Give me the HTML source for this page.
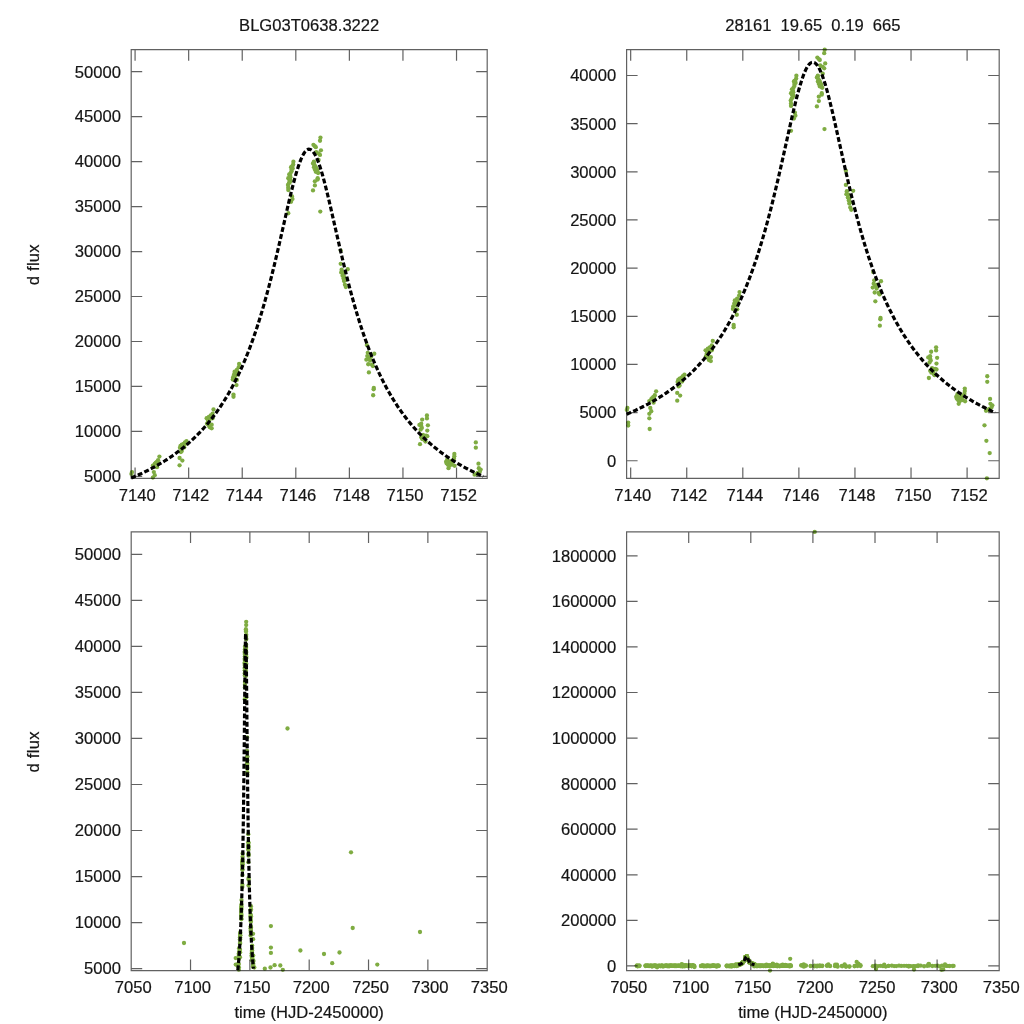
<!DOCTYPE html>
<html lang="en"><head><meta charset="utf-8"><title>BLG03T0638.3222</title>
<style>html,body{margin:0;padding:0;background:#fff}svg{display:block}</style>
</head><body>
<svg width="1024" height="1024" viewBox="0 0 1024 1024">
<rect width="1024" height="1024" fill="#fff"/>
<g font-family="'Liberation Sans', Arial, Helvetica, sans-serif" font-size="16.6" fill="#151515" opacity="0.999" stroke="#151515" stroke-width="0.2">
<g text-anchor="middle">
<text x="137.18" y="500.85">7140</text>
<text x="190.76" y="500.85">7142</text>
<text x="244.33" y="500.85">7144</text>
<text x="297.91" y="500.85">7146</text>
<text x="351.48" y="500.85">7148</text>
<text x="405.05" y="500.85">7150</text>
<text x="458.63" y="500.85">7152</text>
</g><g text-anchor="end">
<text x="120.9" y="482.27">5000</text>
<text x="120.9" y="437.3">10000</text>
<text x="120.9" y="392.32">15000</text>
<text x="120.9" y="347.35">20000</text>
<text x="120.9" y="302.37">25000</text>
<text x="120.9" y="257.4">30000</text>
<text x="120.9" y="212.42">35000</text>
<text x="120.9" y="167.45">40000</text>
<text x="120.9" y="122.47">45000</text>
<text x="120.9" y="77.5">50000</text>
</g>
<g text-anchor="middle">
<text x="632.77" y="500.85">7140</text>
<text x="688.84" y="500.85">7142</text>
<text x="744.91" y="500.85">7144</text>
<text x="800.98" y="500.85">7146</text>
<text x="857.05" y="500.85">7148</text>
<text x="913.13" y="500.85">7150</text>
<text x="969.2" y="500.85">7152</text>
</g><g text-anchor="end">
<text x="616.3" y="466.6">0</text>
<text x="616.3" y="418.44">5000</text>
<text x="616.3" y="370.29">10000</text>
<text x="616.3" y="322.13">15000</text>
<text x="616.3" y="273.98">20000</text>
<text x="616.3" y="225.82">25000</text>
<text x="616.3" y="177.67">30000</text>
<text x="616.3" y="129.52">35000</text>
<text x="616.3" y="81.36">40000</text>
</g>
<g text-anchor="middle">
<text x="133.3" y="993.05">7050</text>
<text x="192.63" y="993.05">7100</text>
<text x="251.97" y="993.05">7150</text>
<text x="311.3" y="993.05">7200</text>
<text x="370.63" y="993.05">7250</text>
<text x="429.97" y="993.05">7300</text>
<text x="489.3" y="993.05">7350</text>
</g><g text-anchor="end">
<text x="120.9" y="974.42">5000</text>
<text x="120.9" y="928.4">10000</text>
<text x="120.9" y="882.38">15000</text>
<text x="120.9" y="836.35">20000</text>
<text x="120.9" y="790.33">25000</text>
<text x="120.9" y="744.31">30000</text>
<text x="120.9" y="698.28">35000</text>
<text x="120.9" y="652.26">40000</text>
<text x="120.9" y="606.23">45000</text>
<text x="120.9" y="560.21">50000</text>
</g>
<g text-anchor="middle">
<text x="628.7" y="993.05">7050</text>
<text x="690.8" y="993.05">7100</text>
<text x="752.9" y="993.05">7150</text>
<text x="815" y="993.05">7200</text>
<text x="877.1" y="993.05">7250</text>
<text x="939.2" y="993.05">7300</text>
<text x="1001.3" y="993.05">7350</text>
</g><g text-anchor="end">
<text x="616.3" y="971.76">0</text>
<text x="616.3" y="926.19">200000</text>
<text x="616.3" y="880.63">400000</text>
<text x="616.3" y="835.06">600000</text>
<text x="616.3" y="789.5">800000</text>
<text x="616.3" y="743.93">1000000</text>
<text x="616.3" y="698.37">1200000</text>
<text x="616.3" y="652.8">1400000</text>
<text x="616.3" y="607.24">1600000</text>
<text x="616.3" y="561.67">1800000</text>
</g>
<g text-anchor="middle">
<text x="309.2" y="30.75">BLG03T0638.3222</text>
<text x="812.9" y="30.75" xml:space="preserve" style="white-space:pre">28161  19.65  0.19  665</text>
<text x="309.2" y="1017.5">time (HJD-2450000)</text>
<text x="812.9" y="1017.5">time (HJD-2450000)</text>
<text transform="translate(38.6 264.7) rotate(-90)" letter-spacing="0.25">d flux</text>
<text transform="translate(38.6 751.9) rotate(-90)" letter-spacing="0.25">d flux</text>
</g></g>
<g fill="#7fac42">
<circle cx="131.99" cy="472.07" r="2.15"/>
<circle cx="131.43" cy="473.89" r="2.15"/>
<circle cx="159.42" cy="456.56" r="2.15"/>
<circle cx="158.11" cy="460.21" r="2.15"/>
<circle cx="156.62" cy="462.03" r="2.15"/>
<circle cx="154.75" cy="463.86" r="2.15"/>
<circle cx="152.89" cy="465.68" r="2.15"/>
<circle cx="156.99" cy="467.14" r="2.15"/>
<circle cx="153.82" cy="472.07" r="2.15"/>
<circle cx="154.75" cy="475.17" r="2.15"/>
<circle cx="152.89" cy="477.54" r="2.15"/>
<circle cx="155.68" cy="462.95" r="2.15"/>
<circle cx="157.55" cy="461.49" r="2.15"/>
<circle cx="186.48" cy="441.06" r="2.15"/>
<circle cx="184.98" cy="442.33" r="2.15"/>
<circle cx="183.68" cy="443.79" r="2.15"/>
<circle cx="181.81" cy="444.7" r="2.15"/>
<circle cx="180.5" cy="445.98" r="2.15"/>
<circle cx="179.94" cy="447.81" r="2.15"/>
<circle cx="184.24" cy="447.44" r="2.15"/>
<circle cx="181.81" cy="451.09" r="2.15"/>
<circle cx="180.88" cy="452" r="2.15"/>
<circle cx="179.57" cy="458.02" r="2.15"/>
<circle cx="182.37" cy="460.57" r="2.15"/>
<circle cx="179.57" cy="465.32" r="2.15"/>
<circle cx="182.74" cy="445.98" r="2.15"/>
<circle cx="185.54" cy="443.79" r="2.15"/>
<circle cx="213.53" cy="409.5" r="2.15"/>
<circle cx="212.6" cy="413.69" r="2.15"/>
<circle cx="210.74" cy="415.52" r="2.15"/>
<circle cx="208.87" cy="416.79" r="2.15"/>
<circle cx="206.63" cy="418.25" r="2.15"/>
<circle cx="207.94" cy="420.99" r="2.15"/>
<circle cx="207" cy="423.73" r="2.15"/>
<circle cx="208.87" cy="425.55" r="2.15"/>
<circle cx="211.67" cy="424.64" r="2.15"/>
<circle cx="209.8" cy="427.37" r="2.15"/>
<circle cx="211.67" cy="428.29" r="2.15"/>
<circle cx="212.6" cy="418.25" r="2.15"/>
<circle cx="209.8" cy="419.17" r="2.15"/>
<circle cx="208.5" cy="422.81" r="2.15"/>
<circle cx="239.1" cy="363.89" r="2.15"/>
<circle cx="238.73" cy="367.18" r="2.15"/>
<circle cx="236.86" cy="369.91" r="2.15"/>
<circle cx="234.62" cy="371.74" r="2.15"/>
<circle cx="234.06" cy="374.47" r="2.15"/>
<circle cx="233.13" cy="377.21" r="2.15"/>
<circle cx="232.76" cy="379.58" r="2.15"/>
<circle cx="236.86" cy="379.95" r="2.15"/>
<circle cx="236.49" cy="385.05" r="2.15"/>
<circle cx="233.5" cy="394.54" r="2.15"/>
<circle cx="233.5" cy="396.73" r="2.15"/>
<circle cx="237.79" cy="374.47" r="2.15"/>
<circle cx="235.93" cy="372.65" r="2.15"/>
<circle cx="234.99" cy="376.3" r="2.15"/>
<circle cx="237.42" cy="371.74" r="2.15"/>
<circle cx="293.4" cy="161.72" r="2.15"/>
<circle cx="293.22" cy="164.46" r="2.15"/>
<circle cx="292" cy="166.28" r="2.15"/>
<circle cx="291.07" cy="167.19" r="2.15"/>
<circle cx="292.66" cy="168.56" r="2.15"/>
<circle cx="291.54" cy="171.3" r="2.15"/>
<circle cx="290.6" cy="173.12" r="2.15"/>
<circle cx="289.21" cy="174.49" r="2.15"/>
<circle cx="290.14" cy="175.86" r="2.15"/>
<circle cx="288.27" cy="178.14" r="2.15"/>
<circle cx="289.21" cy="179.51" r="2.15"/>
<circle cx="290.6" cy="180.42" r="2.15"/>
<circle cx="289.67" cy="182.24" r="2.15"/>
<circle cx="287.99" cy="184.98" r="2.15"/>
<circle cx="288.27" cy="187.72" r="2.15"/>
<circle cx="288.27" cy="190" r="2.15"/>
<circle cx="292" cy="196.38" r="2.15"/>
<circle cx="292.47" cy="199.12" r="2.15"/>
<circle cx="291.07" cy="201.85" r="2.15"/>
<circle cx="288.27" cy="213.25" r="2.15"/>
<circle cx="291.54" cy="169.47" r="2.15"/>
<circle cx="290.42" cy="177.23" r="2.15"/>
<circle cx="289.48" cy="177.68" r="2.15"/>
<circle cx="288.93" cy="183.16" r="2.15"/>
<circle cx="292.28" cy="166.74" r="2.15"/>
<circle cx="320.46" cy="137.55" r="2.15"/>
<circle cx="320" cy="140.74" r="2.15"/>
<circle cx="313.46" cy="144.85" r="2.15"/>
<circle cx="314.86" cy="146.22" r="2.15"/>
<circle cx="315.8" cy="147.13" r="2.15"/>
<circle cx="320.93" cy="150.32" r="2.15"/>
<circle cx="316.26" cy="152.15" r="2.15"/>
<circle cx="318.6" cy="153.51" r="2.15"/>
<circle cx="320" cy="154.88" r="2.15"/>
<circle cx="318.6" cy="159.9" r="2.15"/>
<circle cx="313.93" cy="161.72" r="2.15"/>
<circle cx="313" cy="163.55" r="2.15"/>
<circle cx="314.4" cy="164.91" r="2.15"/>
<circle cx="313.93" cy="167.19" r="2.15"/>
<circle cx="315.8" cy="167.65" r="2.15"/>
<circle cx="314.86" cy="169.47" r="2.15"/>
<circle cx="317.2" cy="169.93" r="2.15"/>
<circle cx="315.8" cy="171.76" r="2.15"/>
<circle cx="318.13" cy="173.12" r="2.15"/>
<circle cx="317.66" cy="178.14" r="2.15"/>
<circle cx="317.66" cy="179.51" r="2.15"/>
<circle cx="314.86" cy="181.33" r="2.15"/>
<circle cx="314.86" cy="185.44" r="2.15"/>
<circle cx="313" cy="190.45" r="2.15"/>
<circle cx="320.28" cy="211.61" r="2.15"/>
<circle cx="313.74" cy="162.36" r="2.15"/>
<circle cx="315.33" cy="166.28" r="2.15"/>
<circle cx="316.26" cy="169.02" r="2.15"/>
<circle cx="316.73" cy="171.3" r="2.15"/>
<circle cx="317.66" cy="172.21" r="2.15"/>
<circle cx="340.71" cy="250.56" r="2.15"/>
<circle cx="340.71" cy="263.78" r="2.15"/>
<circle cx="347.71" cy="269.26" r="2.15"/>
<circle cx="341.64" cy="269.71" r="2.15"/>
<circle cx="341.18" cy="272.45" r="2.15"/>
<circle cx="342.58" cy="275.64" r="2.15"/>
<circle cx="343.51" cy="278.38" r="2.15"/>
<circle cx="343.98" cy="281.11" r="2.15"/>
<circle cx="344.91" cy="284.76" r="2.15"/>
<circle cx="345.84" cy="287.04" r="2.15"/>
<circle cx="343.04" cy="272.9" r="2.15"/>
<circle cx="343.98" cy="276.55" r="2.15"/>
<circle cx="344.91" cy="280.2" r="2.15"/>
<circle cx="366.82" cy="345.11" r="2.15"/>
<circle cx="367.75" cy="352.86" r="2.15"/>
<circle cx="374.28" cy="353.77" r="2.15"/>
<circle cx="367.28" cy="356.05" r="2.15"/>
<circle cx="368.68" cy="357.87" r="2.15"/>
<circle cx="366.35" cy="359.7" r="2.15"/>
<circle cx="368.22" cy="364.26" r="2.15"/>
<circle cx="371.95" cy="364.71" r="2.15"/>
<circle cx="372.88" cy="366.08" r="2.15"/>
<circle cx="368.87" cy="372.47" r="2.15"/>
<circle cx="373.81" cy="387.97" r="2.15"/>
<circle cx="373.63" cy="389.34" r="2.15"/>
<circle cx="373.16" cy="395.27" r="2.15"/>
<circle cx="371.02" cy="356.96" r="2.15"/>
<circle cx="370.08" cy="360.61" r="2.15"/>
<circle cx="426.92" cy="415.44" r="2.15"/>
<circle cx="426.92" cy="418.4" r="2.15"/>
<circle cx="422.19" cy="419.59" r="2.15"/>
<circle cx="421.22" cy="423.74" r="2.15"/>
<circle cx="419.4" cy="424.92" r="2.15"/>
<circle cx="427.89" cy="425.28" r="2.15"/>
<circle cx="421.83" cy="427.89" r="2.15"/>
<circle cx="420.62" cy="429.66" r="2.15"/>
<circle cx="427.29" cy="430.61" r="2.15"/>
<circle cx="426.07" cy="435.59" r="2.15"/>
<circle cx="427.29" cy="436.18" r="2.15"/>
<circle cx="421.22" cy="437.37" r="2.15"/>
<circle cx="422.44" cy="439.15" r="2.15"/>
<circle cx="424.86" cy="440.33" r="2.15"/>
<circle cx="425.47" cy="441.52" r="2.15"/>
<circle cx="420.01" cy="444.13" r="2.15"/>
<circle cx="423.04" cy="435" r="2.15"/>
<circle cx="424.25" cy="437.37" r="2.15"/>
<circle cx="421.22" cy="426.11" r="2.15"/>
<circle cx="454.34" cy="453.97" r="2.15"/>
<circle cx="454.34" cy="456.34" r="2.15"/>
<circle cx="453.97" cy="458.71" r="2.15"/>
<circle cx="447.3" cy="459.31" r="2.15"/>
<circle cx="446.09" cy="461.68" r="2.15"/>
<circle cx="448.51" cy="462.27" r="2.15"/>
<circle cx="450.33" cy="463.46" r="2.15"/>
<circle cx="447.91" cy="464.64" r="2.15"/>
<circle cx="452.15" cy="464.64" r="2.15"/>
<circle cx="454.58" cy="465.83" r="2.15"/>
<circle cx="448.51" cy="468.2" r="2.15"/>
<circle cx="446.69" cy="463.46" r="2.15"/>
<circle cx="450.94" cy="461.08" r="2.15"/>
<circle cx="449.48" cy="465.83" r="2.15"/>
<circle cx="452.76" cy="461.08" r="2.15"/>
<circle cx="475.81" cy="442.47" r="2.15"/>
<circle cx="475.81" cy="447.69" r="2.15"/>
<circle cx="478.47" cy="463.69" r="2.15"/>
<circle cx="478.84" cy="468.2" r="2.15"/>
<circle cx="480.66" cy="469.62" r="2.15"/>
<circle cx="479.81" cy="471.76" r="2.15"/>
<circle cx="477.63" cy="472.94" r="2.15"/>
<circle cx="474.59" cy="474.72" r="2.15"/>
<circle cx="476.41" cy="474.13" r="2.15"/>
<circle cx="627.42" cy="407.93" r="2.15"/>
<circle cx="626.84" cy="409.88" r="2.15"/>
<circle cx="628.2" cy="422.58" r="2.15"/>
<circle cx="628.2" cy="425.51" r="2.15"/>
<circle cx="656.13" cy="391.33" r="2.15"/>
<circle cx="654.77" cy="395.23" r="2.15"/>
<circle cx="653.2" cy="397.19" r="2.15"/>
<circle cx="651.25" cy="399.14" r="2.15"/>
<circle cx="649.3" cy="401.09" r="2.15"/>
<circle cx="653.59" cy="402.66" r="2.15"/>
<circle cx="650.27" cy="407.93" r="2.15"/>
<circle cx="651.25" cy="411.25" r="2.15"/>
<circle cx="649.3" cy="413.79" r="2.15"/>
<circle cx="649.3" cy="418.28" r="2.15"/>
<circle cx="649.69" cy="429.02" r="2.15"/>
<circle cx="652.23" cy="398.16" r="2.15"/>
<circle cx="654.18" cy="396.6" r="2.15"/>
<circle cx="684.45" cy="374.73" r="2.15"/>
<circle cx="682.89" cy="376.09" r="2.15"/>
<circle cx="681.52" cy="377.66" r="2.15"/>
<circle cx="679.57" cy="378.63" r="2.15"/>
<circle cx="678.2" cy="380" r="2.15"/>
<circle cx="677.62" cy="381.95" r="2.15"/>
<circle cx="682.11" cy="381.56" r="2.15"/>
<circle cx="679.57" cy="385.47" r="2.15"/>
<circle cx="678.59" cy="386.45" r="2.15"/>
<circle cx="677.23" cy="392.89" r="2.15"/>
<circle cx="680.16" cy="395.62" r="2.15"/>
<circle cx="677.23" cy="400.7" r="2.15"/>
<circle cx="680.55" cy="380" r="2.15"/>
<circle cx="683.48" cy="377.66" r="2.15"/>
<circle cx="712.77" cy="340.94" r="2.15"/>
<circle cx="711.8" cy="345.43" r="2.15"/>
<circle cx="709.84" cy="347.38" r="2.15"/>
<circle cx="707.89" cy="348.75" r="2.15"/>
<circle cx="705.55" cy="350.31" r="2.15"/>
<circle cx="706.91" cy="353.24" r="2.15"/>
<circle cx="705.94" cy="356.17" r="2.15"/>
<circle cx="707.89" cy="358.12" r="2.15"/>
<circle cx="710.82" cy="357.15" r="2.15"/>
<circle cx="708.87" cy="360.08" r="2.15"/>
<circle cx="710.82" cy="361.05" r="2.15"/>
<circle cx="711.8" cy="350.31" r="2.15"/>
<circle cx="708.87" cy="351.29" r="2.15"/>
<circle cx="707.5" cy="355.2" r="2.15"/>
<circle cx="739.53" cy="292.11" r="2.15"/>
<circle cx="739.14" cy="295.62" r="2.15"/>
<circle cx="737.19" cy="298.55" r="2.15"/>
<circle cx="734.84" cy="300.51" r="2.15"/>
<circle cx="734.26" cy="303.44" r="2.15"/>
<circle cx="733.28" cy="306.37" r="2.15"/>
<circle cx="732.89" cy="308.91" r="2.15"/>
<circle cx="737.19" cy="309.3" r="2.15"/>
<circle cx="736.8" cy="314.77" r="2.15"/>
<circle cx="733.67" cy="324.92" r="2.15"/>
<circle cx="733.67" cy="327.27" r="2.15"/>
<circle cx="738.16" cy="303.44" r="2.15"/>
<circle cx="736.21" cy="301.48" r="2.15"/>
<circle cx="735.23" cy="305.39" r="2.15"/>
<circle cx="737.77" cy="300.51" r="2.15"/>
<circle cx="796.37" cy="75.64" r="2.15"/>
<circle cx="796.17" cy="78.57" r="2.15"/>
<circle cx="794.9" cy="80.53" r="2.15"/>
<circle cx="793.93" cy="81.5" r="2.15"/>
<circle cx="795.59" cy="82.97" r="2.15"/>
<circle cx="794.41" cy="85.9" r="2.15"/>
<circle cx="793.44" cy="87.85" r="2.15"/>
<circle cx="791.97" cy="89.32" r="2.15"/>
<circle cx="792.95" cy="90.78" r="2.15"/>
<circle cx="791" cy="93.22" r="2.15"/>
<circle cx="791.97" cy="94.69" r="2.15"/>
<circle cx="793.44" cy="95.66" r="2.15"/>
<circle cx="792.46" cy="97.62" r="2.15"/>
<circle cx="790.7" cy="100.55" r="2.15"/>
<circle cx="791" cy="103.48" r="2.15"/>
<circle cx="791" cy="105.92" r="2.15"/>
<circle cx="794.9" cy="112.75" r="2.15"/>
<circle cx="795.39" cy="115.68" r="2.15"/>
<circle cx="793.93" cy="118.61" r="2.15"/>
<circle cx="791" cy="130.82" r="2.15"/>
<circle cx="794.41" cy="83.95" r="2.15"/>
<circle cx="793.24" cy="92.25" r="2.15"/>
<circle cx="792.27" cy="92.73" r="2.15"/>
<circle cx="791.68" cy="98.59" r="2.15"/>
<circle cx="795.2" cy="81.02" r="2.15"/>
<circle cx="824.69" cy="49.77" r="2.15"/>
<circle cx="824.2" cy="53.18" r="2.15"/>
<circle cx="817.36" cy="57.58" r="2.15"/>
<circle cx="818.83" cy="59.04" r="2.15"/>
<circle cx="819.8" cy="60.02" r="2.15"/>
<circle cx="825.18" cy="63.44" r="2.15"/>
<circle cx="820.29" cy="65.39" r="2.15"/>
<circle cx="822.73" cy="66.86" r="2.15"/>
<circle cx="824.2" cy="68.32" r="2.15"/>
<circle cx="822.73" cy="73.69" r="2.15"/>
<circle cx="817.85" cy="75.64" r="2.15"/>
<circle cx="816.88" cy="77.6" r="2.15"/>
<circle cx="818.34" cy="79.06" r="2.15"/>
<circle cx="817.85" cy="81.5" r="2.15"/>
<circle cx="819.8" cy="81.99" r="2.15"/>
<circle cx="818.83" cy="83.95" r="2.15"/>
<circle cx="821.27" cy="84.43" r="2.15"/>
<circle cx="819.8" cy="86.39" r="2.15"/>
<circle cx="822.25" cy="87.85" r="2.15"/>
<circle cx="821.76" cy="93.22" r="2.15"/>
<circle cx="821.76" cy="94.69" r="2.15"/>
<circle cx="818.83" cy="96.64" r="2.15"/>
<circle cx="818.83" cy="101.04" r="2.15"/>
<circle cx="816.88" cy="106.41" r="2.15"/>
<circle cx="824.49" cy="129.06" r="2.15"/>
<circle cx="817.66" cy="76.33" r="2.15"/>
<circle cx="819.32" cy="80.53" r="2.15"/>
<circle cx="820.29" cy="83.46" r="2.15"/>
<circle cx="820.78" cy="85.9" r="2.15"/>
<circle cx="821.76" cy="86.88" r="2.15"/>
<circle cx="845.88" cy="170.76" r="2.15"/>
<circle cx="845.88" cy="184.92" r="2.15"/>
<circle cx="853.2" cy="190.78" r="2.15"/>
<circle cx="846.86" cy="191.27" r="2.15"/>
<circle cx="846.37" cy="194.2" r="2.15"/>
<circle cx="847.83" cy="197.62" r="2.15"/>
<circle cx="848.81" cy="200.55" r="2.15"/>
<circle cx="849.3" cy="203.48" r="2.15"/>
<circle cx="850.27" cy="207.38" r="2.15"/>
<circle cx="851.25" cy="209.82" r="2.15"/>
<circle cx="848.32" cy="194.69" r="2.15"/>
<circle cx="849.3" cy="198.59" r="2.15"/>
<circle cx="850.27" cy="202.5" r="2.15"/>
<circle cx="873.2" cy="271.99" r="2.15"/>
<circle cx="874.18" cy="280.29" r="2.15"/>
<circle cx="881.02" cy="281.27" r="2.15"/>
<circle cx="873.69" cy="283.71" r="2.15"/>
<circle cx="875.16" cy="285.66" r="2.15"/>
<circle cx="872.71" cy="287.62" r="2.15"/>
<circle cx="874.67" cy="292.5" r="2.15"/>
<circle cx="878.57" cy="292.99" r="2.15"/>
<circle cx="879.55" cy="294.45" r="2.15"/>
<circle cx="875.35" cy="301.29" r="2.15"/>
<circle cx="880.53" cy="317.89" r="2.15"/>
<circle cx="880.33" cy="319.36" r="2.15"/>
<circle cx="879.84" cy="325.7" r="2.15"/>
<circle cx="877.6" cy="284.69" r="2.15"/>
<circle cx="876.62" cy="288.59" r="2.15"/>
<circle cx="936.11" cy="347.29" r="2.15"/>
<circle cx="936.11" cy="350.47" r="2.15"/>
<circle cx="931.16" cy="351.74" r="2.15"/>
<circle cx="930.15" cy="356.18" r="2.15"/>
<circle cx="928.24" cy="357.45" r="2.15"/>
<circle cx="937.13" cy="357.83" r="2.15"/>
<circle cx="930.78" cy="360.62" r="2.15"/>
<circle cx="929.51" cy="362.53" r="2.15"/>
<circle cx="936.49" cy="363.54" r="2.15"/>
<circle cx="935.22" cy="368.88" r="2.15"/>
<circle cx="936.49" cy="369.51" r="2.15"/>
<circle cx="930.15" cy="370.78" r="2.15"/>
<circle cx="931.42" cy="372.69" r="2.15"/>
<circle cx="933.95" cy="373.95" r="2.15"/>
<circle cx="934.59" cy="375.22" r="2.15"/>
<circle cx="928.88" cy="378.02" r="2.15"/>
<circle cx="932.05" cy="368.24" r="2.15"/>
<circle cx="933.32" cy="370.78" r="2.15"/>
<circle cx="930.15" cy="358.72" r="2.15"/>
<circle cx="964.8" cy="388.55" r="2.15"/>
<circle cx="964.8" cy="391.09" r="2.15"/>
<circle cx="964.42" cy="393.63" r="2.15"/>
<circle cx="957.44" cy="394.27" r="2.15"/>
<circle cx="956.17" cy="396.81" r="2.15"/>
<circle cx="958.71" cy="397.44" r="2.15"/>
<circle cx="960.61" cy="398.71" r="2.15"/>
<circle cx="958.08" cy="399.98" r="2.15"/>
<circle cx="962.52" cy="399.98" r="2.15"/>
<circle cx="965.06" cy="401.25" r="2.15"/>
<circle cx="958.71" cy="403.79" r="2.15"/>
<circle cx="956.81" cy="398.71" r="2.15"/>
<circle cx="961.25" cy="396.17" r="2.15"/>
<circle cx="959.73" cy="401.25" r="2.15"/>
<circle cx="963.15" cy="396.17" r="2.15"/>
<circle cx="987.27" cy="376.24" r="2.15"/>
<circle cx="987.27" cy="381.83" r="2.15"/>
<circle cx="990.07" cy="398.96" r="2.15"/>
<circle cx="990.45" cy="403.79" r="2.15"/>
<circle cx="992.35" cy="405.31" r="2.15"/>
<circle cx="991.46" cy="407.6" r="2.15"/>
<circle cx="989.18" cy="408.87" r="2.15"/>
<circle cx="986" cy="410.77" r="2.15"/>
<circle cx="987.91" cy="410.14" r="2.15"/>
<circle cx="984.48" cy="425.37" r="2.15"/>
<circle cx="986.39" cy="440.86" r="2.15"/>
<circle cx="989.7" cy="453.1" r="2.15"/>
<circle cx="986.9" cy="478.3" r="2.15"/>
<circle cx="237.86" cy="964.12" r="2.15"/>
<circle cx="237.84" cy="965.99" r="2.15"/>
<circle cx="239.08" cy="948.25" r="2.15"/>
<circle cx="239.02" cy="951.99" r="2.15"/>
<circle cx="238.95" cy="953.85" r="2.15"/>
<circle cx="238.87" cy="955.72" r="2.15"/>
<circle cx="238.79" cy="957.59" r="2.15"/>
<circle cx="238.97" cy="959.08" r="2.15"/>
<circle cx="238.83" cy="964.12" r="2.15"/>
<circle cx="238.87" cy="967.29" r="2.15"/>
<circle cx="238.79" cy="969.72" r="2.15"/>
<circle cx="238.91" cy="954.79" r="2.15"/>
<circle cx="239" cy="953.29" r="2.15"/>
<circle cx="240.28" cy="932.38" r="2.15"/>
<circle cx="240.21" cy="933.69" r="2.15"/>
<circle cx="240.15" cy="935.18" r="2.15"/>
<circle cx="240.07" cy="936.12" r="2.15"/>
<circle cx="240.01" cy="937.42" r="2.15"/>
<circle cx="239.99" cy="939.29" r="2.15"/>
<circle cx="240.18" cy="938.92" r="2.15"/>
<circle cx="240.07" cy="942.65" r="2.15"/>
<circle cx="240.03" cy="943.59" r="2.15"/>
<circle cx="239.97" cy="949.75" r="2.15"/>
<circle cx="240.09" cy="952.36" r="2.15"/>
<circle cx="239.97" cy="957.21" r="2.15"/>
<circle cx="240.11" cy="937.42" r="2.15"/>
<circle cx="240.24" cy="935.18" r="2.15"/>
<circle cx="241.48" cy="900.09" r="2.15"/>
<circle cx="241.43" cy="904.38" r="2.15"/>
<circle cx="241.35" cy="906.25" r="2.15"/>
<circle cx="241.27" cy="907.56" r="2.15"/>
<circle cx="241.17" cy="909.05" r="2.15"/>
<circle cx="241.23" cy="911.85" r="2.15"/>
<circle cx="241.19" cy="914.65" r="2.15"/>
<circle cx="241.27" cy="916.52" r="2.15"/>
<circle cx="241.39" cy="915.58" r="2.15"/>
<circle cx="241.31" cy="918.38" r="2.15"/>
<circle cx="241.39" cy="919.32" r="2.15"/>
<circle cx="241.43" cy="909.05" r="2.15"/>
<circle cx="241.31" cy="909.98" r="2.15"/>
<circle cx="241.25" cy="913.72" r="2.15"/>
<circle cx="242.61" cy="853.42" r="2.15"/>
<circle cx="242.59" cy="856.78" r="2.15"/>
<circle cx="242.51" cy="859.58" r="2.15"/>
<circle cx="242.41" cy="861.45" r="2.15"/>
<circle cx="242.38" cy="864.25" r="2.15"/>
<circle cx="242.34" cy="867.05" r="2.15"/>
<circle cx="242.33" cy="869.48" r="2.15"/>
<circle cx="242.51" cy="869.85" r="2.15"/>
<circle cx="242.49" cy="875.08" r="2.15"/>
<circle cx="242.36" cy="884.78" r="2.15"/>
<circle cx="242.36" cy="887.02" r="2.15"/>
<circle cx="242.55" cy="864.25" r="2.15"/>
<circle cx="242.47" cy="862.38" r="2.15"/>
<circle cx="242.43" cy="866.12" r="2.15"/>
<circle cx="242.53" cy="861.45" r="2.15"/>
<circle cx="245.01" cy="646.54" r="2.15"/>
<circle cx="245.01" cy="649.34" r="2.15"/>
<circle cx="244.95" cy="651.2" r="2.15"/>
<circle cx="244.91" cy="652.14" r="2.15"/>
<circle cx="244.98" cy="653.54" r="2.15"/>
<circle cx="244.93" cy="656.34" r="2.15"/>
<circle cx="244.89" cy="658.2" r="2.15"/>
<circle cx="244.83" cy="659.6" r="2.15"/>
<circle cx="244.87" cy="661" r="2.15"/>
<circle cx="244.79" cy="663.34" r="2.15"/>
<circle cx="244.83" cy="664.74" r="2.15"/>
<circle cx="244.89" cy="665.67" r="2.15"/>
<circle cx="244.85" cy="667.54" r="2.15"/>
<circle cx="244.77" cy="670.34" r="2.15"/>
<circle cx="244.79" cy="673.14" r="2.15"/>
<circle cx="244.79" cy="675.47" r="2.15"/>
<circle cx="244.95" cy="682" r="2.15"/>
<circle cx="244.97" cy="684.8" r="2.15"/>
<circle cx="244.91" cy="687.6" r="2.15"/>
<circle cx="244.79" cy="699.27" r="2.15"/>
<circle cx="244.93" cy="654.47" r="2.15"/>
<circle cx="244.88" cy="662.4" r="2.15"/>
<circle cx="244.84" cy="662.87" r="2.15"/>
<circle cx="244.82" cy="668.47" r="2.15"/>
<circle cx="244.96" cy="651.67" r="2.15"/>
<circle cx="246.21" cy="621.8" r="2.15"/>
<circle cx="246.19" cy="625.07" r="2.15"/>
<circle cx="245.9" cy="629.27" r="2.15"/>
<circle cx="245.96" cy="630.67" r="2.15"/>
<circle cx="246.01" cy="631.6" r="2.15"/>
<circle cx="246.23" cy="634.87" r="2.15"/>
<circle cx="246.03" cy="636.74" r="2.15"/>
<circle cx="246.13" cy="638.14" r="2.15"/>
<circle cx="246.19" cy="639.54" r="2.15"/>
<circle cx="246.13" cy="644.67" r="2.15"/>
<circle cx="245.92" cy="646.54" r="2.15"/>
<circle cx="245.88" cy="648.4" r="2.15"/>
<circle cx="245.94" cy="649.8" r="2.15"/>
<circle cx="245.92" cy="652.14" r="2.15"/>
<circle cx="246.01" cy="652.6" r="2.15"/>
<circle cx="245.96" cy="654.47" r="2.15"/>
<circle cx="246.07" cy="654.94" r="2.15"/>
<circle cx="246.01" cy="656.8" r="2.15"/>
<circle cx="246.11" cy="658.2" r="2.15"/>
<circle cx="246.09" cy="663.34" r="2.15"/>
<circle cx="246.09" cy="664.74" r="2.15"/>
<circle cx="245.96" cy="666.6" r="2.15"/>
<circle cx="245.96" cy="670.8" r="2.15"/>
<circle cx="245.88" cy="675.94" r="2.15"/>
<circle cx="246.2" cy="697.59" r="2.15"/>
<circle cx="245.91" cy="647.19" r="2.15"/>
<circle cx="245.98" cy="651.2" r="2.15"/>
<circle cx="246.03" cy="654" r="2.15"/>
<circle cx="246.05" cy="656.34" r="2.15"/>
<circle cx="246.09" cy="657.27" r="2.15"/>
<circle cx="247.11" cy="737.44" r="2.15"/>
<circle cx="247.11" cy="750.98" r="2.15"/>
<circle cx="247.42" cy="756.58" r="2.15"/>
<circle cx="247.15" cy="757.04" r="2.15"/>
<circle cx="247.13" cy="759.84" r="2.15"/>
<circle cx="247.19" cy="763.11" r="2.15"/>
<circle cx="247.23" cy="765.91" r="2.15"/>
<circle cx="247.25" cy="768.71" r="2.15"/>
<circle cx="247.3" cy="772.44" r="2.15"/>
<circle cx="247.34" cy="774.78" r="2.15"/>
<circle cx="247.21" cy="760.31" r="2.15"/>
<circle cx="247.25" cy="764.04" r="2.15"/>
<circle cx="247.3" cy="767.78" r="2.15"/>
<circle cx="248.27" cy="834.2" r="2.15"/>
<circle cx="248.31" cy="842.13" r="2.15"/>
<circle cx="248.6" cy="843.06" r="2.15"/>
<circle cx="248.29" cy="845.4" r="2.15"/>
<circle cx="248.35" cy="847.26" r="2.15"/>
<circle cx="248.25" cy="849.13" r="2.15"/>
<circle cx="248.33" cy="853.8" r="2.15"/>
<circle cx="248.49" cy="854.26" r="2.15"/>
<circle cx="248.53" cy="855.66" r="2.15"/>
<circle cx="248.36" cy="862.2" r="2.15"/>
<circle cx="248.58" cy="878.06" r="2.15"/>
<circle cx="248.57" cy="879.46" r="2.15"/>
<circle cx="248.55" cy="885.53" r="2.15"/>
<circle cx="248.45" cy="846.33" r="2.15"/>
<circle cx="248.41" cy="850.06" r="2.15"/>
<circle cx="250.93" cy="906.17" r="2.15"/>
<circle cx="250.93" cy="909.2" r="2.15"/>
<circle cx="250.72" cy="910.41" r="2.15"/>
<circle cx="250.68" cy="914.66" r="2.15"/>
<circle cx="250.6" cy="915.87" r="2.15"/>
<circle cx="250.97" cy="916.24" r="2.15"/>
<circle cx="250.7" cy="918.91" r="2.15"/>
<circle cx="250.65" cy="920.73" r="2.15"/>
<circle cx="250.94" cy="921.7" r="2.15"/>
<circle cx="250.89" cy="926.79" r="2.15"/>
<circle cx="250.94" cy="927.4" r="2.15"/>
<circle cx="250.68" cy="928.61" r="2.15"/>
<circle cx="250.73" cy="930.43" r="2.15"/>
<circle cx="250.84" cy="931.65" r="2.15"/>
<circle cx="250.86" cy="932.86" r="2.15"/>
<circle cx="250.62" cy="935.53" r="2.15"/>
<circle cx="250.76" cy="926.19" r="2.15"/>
<circle cx="250.81" cy="928.61" r="2.15"/>
<circle cx="250.68" cy="917.09" r="2.15"/>
<circle cx="252.14" cy="945.6" r="2.15"/>
<circle cx="252.14" cy="948.03" r="2.15"/>
<circle cx="252.13" cy="950.45" r="2.15"/>
<circle cx="251.83" cy="951.06" r="2.15"/>
<circle cx="251.78" cy="953.49" r="2.15"/>
<circle cx="251.88" cy="954.09" r="2.15"/>
<circle cx="251.97" cy="955.31" r="2.15"/>
<circle cx="251.86" cy="956.52" r="2.15"/>
<circle cx="252.05" cy="956.52" r="2.15"/>
<circle cx="252.15" cy="957.73" r="2.15"/>
<circle cx="251.88" cy="960.16" r="2.15"/>
<circle cx="251.8" cy="955.31" r="2.15"/>
<circle cx="251.99" cy="952.88" r="2.15"/>
<circle cx="251.93" cy="957.73" r="2.15"/>
<circle cx="252.07" cy="952.88" r="2.15"/>
<circle cx="253.09" cy="933.83" r="2.15"/>
<circle cx="253.09" cy="939.17" r="2.15"/>
<circle cx="253.21" cy="955.55" r="2.15"/>
<circle cx="253.23" cy="960.16" r="2.15"/>
<circle cx="253.31" cy="961.62" r="2.15"/>
<circle cx="253.27" cy="963.8" r="2.15"/>
<circle cx="253.17" cy="965.01" r="2.15"/>
<circle cx="253.04" cy="966.83" r="2.15"/>
<circle cx="253.12" cy="966.23" r="2.15"/>
<circle cx="351" cy="852.3" r="2.15"/>
<circle cx="352.7" cy="928" r="2.15"/>
<circle cx="270.9" cy="926.1" r="2.15"/>
<circle cx="270.9" cy="947.6" r="2.15"/>
<circle cx="270.9" cy="952.9" r="2.15"/>
<circle cx="300.4" cy="950.5" r="2.15"/>
<circle cx="324" cy="954" r="2.15"/>
<circle cx="339.5" cy="952.5" r="2.15"/>
<circle cx="332.2" cy="963.2" r="2.15"/>
<circle cx="377.3" cy="964.6" r="2.15"/>
<circle cx="264.8" cy="968.7" r="2.15"/>
<circle cx="270.5" cy="967.5" r="2.15"/>
<circle cx="274.6" cy="965.2" r="2.15"/>
<circle cx="280.3" cy="965.5" r="2.15"/>
<circle cx="282.8" cy="969.8" r="2.15"/>
<circle cx="235.7" cy="958.1" r="2.15"/>
<circle cx="235.7" cy="964.6" r="2.15"/>
<circle cx="254.3" cy="967.5" r="2.15"/>
<circle cx="184" cy="943" r="2.15"/>
<circle cx="287.5" cy="728.5" r="2.15"/>
<circle cx="420" cy="932" r="2.15"/>
<circle cx="738.24" cy="964.66" r="2.15"/>
<circle cx="738.21" cy="964.7" r="2.15"/>
<circle cx="738.27" cy="965" r="2.15"/>
<circle cx="738.27" cy="965.07" r="2.15"/>
<circle cx="739.51" cy="964.26" r="2.15"/>
<circle cx="739.45" cy="964.36" r="2.15"/>
<circle cx="739.38" cy="964.4" r="2.15"/>
<circle cx="739.29" cy="964.45" r="2.15"/>
<circle cx="739.21" cy="964.5" r="2.15"/>
<circle cx="739.4" cy="964.53" r="2.15"/>
<circle cx="739.25" cy="964.66" r="2.15"/>
<circle cx="739.29" cy="964.74" r="2.15"/>
<circle cx="739.21" cy="964.8" r="2.15"/>
<circle cx="739.21" cy="964.9" r="2.15"/>
<circle cx="739.22" cy="965.16" r="2.15"/>
<circle cx="739.34" cy="964.43" r="2.15"/>
<circle cx="739.42" cy="964.39" r="2.15"/>
<circle cx="740.76" cy="963.87" r="2.15"/>
<circle cx="740.69" cy="963.9" r="2.15"/>
<circle cx="740.63" cy="963.94" r="2.15"/>
<circle cx="740.55" cy="963.96" r="2.15"/>
<circle cx="740.49" cy="964" r="2.15"/>
<circle cx="740.46" cy="964.04" r="2.15"/>
<circle cx="740.66" cy="964.03" r="2.15"/>
<circle cx="740.55" cy="964.13" r="2.15"/>
<circle cx="740.5" cy="964.15" r="2.15"/>
<circle cx="740.44" cy="964.3" r="2.15"/>
<circle cx="740.57" cy="964.37" r="2.15"/>
<circle cx="740.44" cy="964.49" r="2.15"/>
<circle cx="740.59" cy="964" r="2.15"/>
<circle cx="740.72" cy="963.94" r="2.15"/>
<circle cx="742.02" cy="963.07" r="2.15"/>
<circle cx="741.97" cy="963.18" r="2.15"/>
<circle cx="741.89" cy="963.23" r="2.15"/>
<circle cx="741.8" cy="963.26" r="2.15"/>
<circle cx="741.7" cy="963.29" r="2.15"/>
<circle cx="741.76" cy="963.36" r="2.15"/>
<circle cx="741.71" cy="963.43" r="2.15"/>
<circle cx="741.8" cy="963.48" r="2.15"/>
<circle cx="741.93" cy="963.46" r="2.15"/>
<circle cx="741.84" cy="963.53" r="2.15"/>
<circle cx="741.93" cy="963.55" r="2.15"/>
<circle cx="741.97" cy="963.29" r="2.15"/>
<circle cx="741.84" cy="963.32" r="2.15"/>
<circle cx="741.78" cy="963.41" r="2.15"/>
<circle cx="743.2" cy="961.92" r="2.15"/>
<circle cx="743.19" cy="962" r="2.15"/>
<circle cx="743.1" cy="962.07" r="2.15"/>
<circle cx="743" cy="962.12" r="2.15"/>
<circle cx="742.97" cy="962.19" r="2.15"/>
<circle cx="742.93" cy="962.25" r="2.15"/>
<circle cx="742.91" cy="962.31" r="2.15"/>
<circle cx="743.1" cy="962.32" r="2.15"/>
<circle cx="743.08" cy="962.45" r="2.15"/>
<circle cx="742.94" cy="962.69" r="2.15"/>
<circle cx="742.94" cy="962.75" r="2.15"/>
<circle cx="743.14" cy="962.19" r="2.15"/>
<circle cx="743.06" cy="962.14" r="2.15"/>
<circle cx="743.01" cy="962.23" r="2.15"/>
<circle cx="743.12" cy="962.12" r="2.15"/>
<circle cx="745.72" cy="956.8" r="2.15"/>
<circle cx="745.71" cy="956.87" r="2.15"/>
<circle cx="745.66" cy="956.91" r="2.15"/>
<circle cx="745.61" cy="956.94" r="2.15"/>
<circle cx="745.69" cy="956.97" r="2.15"/>
<circle cx="745.63" cy="957.04" r="2.15"/>
<circle cx="745.59" cy="957.09" r="2.15"/>
<circle cx="745.53" cy="957.12" r="2.15"/>
<circle cx="745.57" cy="957.16" r="2.15"/>
<circle cx="745.48" cy="957.21" r="2.15"/>
<circle cx="745.53" cy="957.25" r="2.15"/>
<circle cx="745.59" cy="957.27" r="2.15"/>
<circle cx="745.55" cy="957.32" r="2.15"/>
<circle cx="745.47" cy="957.39" r="2.15"/>
<circle cx="745.48" cy="957.46" r="2.15"/>
<circle cx="745.48" cy="957.51" r="2.15"/>
<circle cx="745.66" cy="957.67" r="2.15"/>
<circle cx="745.68" cy="957.74" r="2.15"/>
<circle cx="745.61" cy="957.81" r="2.15"/>
<circle cx="745.48" cy="958.1" r="2.15"/>
<circle cx="745.63" cy="956.99" r="2.15"/>
<circle cx="745.58" cy="957.19" r="2.15"/>
<circle cx="745.54" cy="957.2" r="2.15"/>
<circle cx="745.51" cy="957.34" r="2.15"/>
<circle cx="745.67" cy="956.92" r="2.15"/>
<circle cx="746.98" cy="956.18" r="2.15"/>
<circle cx="746.95" cy="956.27" r="2.15"/>
<circle cx="746.65" cy="956.37" r="2.15"/>
<circle cx="746.72" cy="956.4" r="2.15"/>
<circle cx="746.76" cy="956.43" r="2.15"/>
<circle cx="747" cy="956.51" r="2.15"/>
<circle cx="746.78" cy="956.55" r="2.15"/>
<circle cx="746.89" cy="956.59" r="2.15"/>
<circle cx="746.95" cy="956.62" r="2.15"/>
<circle cx="746.89" cy="956.75" r="2.15"/>
<circle cx="746.67" cy="956.8" r="2.15"/>
<circle cx="746.63" cy="956.84" r="2.15"/>
<circle cx="746.69" cy="956.88" r="2.15"/>
<circle cx="746.67" cy="956.94" r="2.15"/>
<circle cx="746.76" cy="956.95" r="2.15"/>
<circle cx="746.72" cy="956.99" r="2.15"/>
<circle cx="746.82" cy="957" r="2.15"/>
<circle cx="746.76" cy="957.05" r="2.15"/>
<circle cx="746.87" cy="957.09" r="2.15"/>
<circle cx="746.85" cy="957.21" r="2.15"/>
<circle cx="746.85" cy="957.25" r="2.15"/>
<circle cx="746.72" cy="957.29" r="2.15"/>
<circle cx="746.72" cy="957.4" r="2.15"/>
<circle cx="746.63" cy="957.52" r="2.15"/>
<circle cx="746.97" cy="958.06" r="2.15"/>
<circle cx="746.66" cy="956.81" r="2.15"/>
<circle cx="746.74" cy="956.91" r="2.15"/>
<circle cx="746.78" cy="956.98" r="2.15"/>
<circle cx="746.8" cy="957.04" r="2.15"/>
<circle cx="746.85" cy="957.06" r="2.15"/>
<circle cx="747.91" cy="959.05" r="2.15"/>
<circle cx="747.91" cy="959.38" r="2.15"/>
<circle cx="748.24" cy="959.52" r="2.15"/>
<circle cx="747.96" cy="959.53" r="2.15"/>
<circle cx="747.94" cy="959.6" r="2.15"/>
<circle cx="748" cy="959.68" r="2.15"/>
<circle cx="748.04" cy="959.75" r="2.15"/>
<circle cx="748.07" cy="959.82" r="2.15"/>
<circle cx="748.11" cy="959.91" r="2.15"/>
<circle cx="748.15" cy="959.97" r="2.15"/>
<circle cx="748.02" cy="959.61" r="2.15"/>
<circle cx="748.07" cy="959.71" r="2.15"/>
<circle cx="748.11" cy="959.8" r="2.15"/>
<circle cx="749.12" cy="961.44" r="2.15"/>
<circle cx="749.17" cy="961.64" r="2.15"/>
<circle cx="749.47" cy="961.66" r="2.15"/>
<circle cx="749.15" cy="961.72" r="2.15"/>
<circle cx="749.21" cy="961.77" r="2.15"/>
<circle cx="749.1" cy="961.81" r="2.15"/>
<circle cx="749.19" cy="961.93" r="2.15"/>
<circle cx="749.36" cy="961.94" r="2.15"/>
<circle cx="749.41" cy="961.97" r="2.15"/>
<circle cx="749.22" cy="962.13" r="2.15"/>
<circle cx="749.45" cy="962.53" r="2.15"/>
<circle cx="749.44" cy="962.56" r="2.15"/>
<circle cx="749.42" cy="962.71" r="2.15"/>
<circle cx="749.32" cy="961.74" r="2.15"/>
<circle cx="749.28" cy="961.83" r="2.15"/>
<circle cx="751.91" cy="963.22" r="2.15"/>
<circle cx="751.91" cy="963.3" r="2.15"/>
<circle cx="751.69" cy="963.33" r="2.15"/>
<circle cx="751.65" cy="963.43" r="2.15"/>
<circle cx="751.56" cy="963.46" r="2.15"/>
<circle cx="751.96" cy="963.47" r="2.15"/>
<circle cx="751.68" cy="963.54" r="2.15"/>
<circle cx="751.62" cy="963.58" r="2.15"/>
<circle cx="751.93" cy="963.61" r="2.15"/>
<circle cx="751.87" cy="963.73" r="2.15"/>
<circle cx="751.93" cy="963.75" r="2.15"/>
<circle cx="751.65" cy="963.78" r="2.15"/>
<circle cx="751.7" cy="963.82" r="2.15"/>
<circle cx="751.82" cy="963.85" r="2.15"/>
<circle cx="751.84" cy="963.88" r="2.15"/>
<circle cx="751.59" cy="963.95" r="2.15"/>
<circle cx="751.73" cy="963.72" r="2.15"/>
<circle cx="751.79" cy="963.78" r="2.15"/>
<circle cx="751.65" cy="963.49" r="2.15"/>
<circle cx="753.18" cy="964.2" r="2.15"/>
<circle cx="753.18" cy="964.26" r="2.15"/>
<circle cx="753.17" cy="964.32" r="2.15"/>
<circle cx="752.86" cy="964.33" r="2.15"/>
<circle cx="752.8" cy="964.39" r="2.15"/>
<circle cx="752.91" cy="964.41" r="2.15"/>
<circle cx="753" cy="964.44" r="2.15"/>
<circle cx="752.88" cy="964.47" r="2.15"/>
<circle cx="753.08" cy="964.47" r="2.15"/>
<circle cx="753.19" cy="964.5" r="2.15"/>
<circle cx="752.91" cy="964.56" r="2.15"/>
<circle cx="752.83" cy="964.44" r="2.15"/>
<circle cx="753.02" cy="964.38" r="2.15"/>
<circle cx="752.96" cy="964.5" r="2.15"/>
<circle cx="753.11" cy="964.38" r="2.15"/>
<circle cx="754.18" cy="963.91" r="2.15"/>
<circle cx="754.18" cy="964.04" r="2.15"/>
<circle cx="754.3" cy="964.45" r="2.15"/>
<circle cx="754.32" cy="964.56" r="2.15"/>
<circle cx="754.4" cy="964.6" r="2.15"/>
<circle cx="754.36" cy="964.65" r="2.15"/>
<circle cx="754.26" cy="964.68" r="2.15"/>
<circle cx="754.12" cy="964.72" r="2.15"/>
<circle cx="754.21" cy="964.71" r="2.15"/>
<circle cx="754.05" cy="965.07" r="2.15"/>
<circle cx="754.14" cy="965.44" r="2.15"/>
<circle cx="754.29" cy="965.73" r="2.15"/>
<circle cx="754.16" cy="966.32" r="2.15"/>
<circle cx="856.65" cy="961.89" r="2.15"/>
<circle cx="858.43" cy="963.76" r="2.15"/>
<circle cx="772.81" cy="963.72" r="2.15"/>
<circle cx="772.81" cy="964.25" r="2.15"/>
<circle cx="772.81" cy="964.38" r="2.15"/>
<circle cx="803.69" cy="964.32" r="2.15"/>
<circle cx="828.39" cy="964.41" r="2.15"/>
<circle cx="844.61" cy="964.37" r="2.15"/>
<circle cx="836.97" cy="964.63" r="2.15"/>
<circle cx="884.18" cy="964.67" r="2.15"/>
<circle cx="766.43" cy="964.77" r="2.15"/>
<circle cx="772.4" cy="964.74" r="2.15"/>
<circle cx="776.69" cy="964.68" r="2.15"/>
<circle cx="782.65" cy="964.69" r="2.15"/>
<circle cx="785.27" cy="964.8" r="2.15"/>
<circle cx="735.97" cy="964.51" r="2.15"/>
<circle cx="735.97" cy="964.67" r="2.15"/>
<circle cx="755.44" cy="964.74" r="2.15"/>
<circle cx="681.86" cy="964.13" r="2.15"/>
<circle cx="790.19" cy="958.83" r="2.15"/>
<circle cx="928.87" cy="963.86" r="2.15"/>
<circle cx="636.86" cy="965.99" r="2.15"/>
<circle cx="636.94" cy="965.63" r="2.15"/>
<circle cx="636.7" cy="965.6" r="2.15"/>
<circle cx="637.8" cy="966.3" r="2.15"/>
<circle cx="638.2" cy="965.71" r="2.15"/>
<circle cx="637.95" cy="966.01" r="2.15"/>
<circle cx="639.18" cy="965.62" r="2.15"/>
<circle cx="639.3" cy="966.11" r="2.15"/>
<circle cx="639.55" cy="965.76" r="2.15"/>
<circle cx="645.66" cy="965.51" r="2.15"/>
<circle cx="645.46" cy="965.83" r="2.15"/>
<circle cx="645.66" cy="965.98" r="2.15"/>
<circle cx="646.61" cy="965.84" r="2.15"/>
<circle cx="646.83" cy="965.74" r="2.15"/>
<circle cx="646.91" cy="965.93" r="2.15"/>
<circle cx="648.08" cy="965.76" r="2.15"/>
<circle cx="647.93" cy="965.66" r="2.15"/>
<circle cx="647.93" cy="965.66" r="2.15"/>
<circle cx="649.08" cy="966.17" r="2.15"/>
<circle cx="649.15" cy="965.87" r="2.15"/>
<circle cx="649.52" cy="965.92" r="2.15"/>
<circle cx="650.74" cy="965.92" r="2.15"/>
<circle cx="650.69" cy="965.44" r="2.15"/>
<circle cx="650.59" cy="965.94" r="2.15"/>
<circle cx="652" cy="966.5" r="2.15"/>
<circle cx="651.86" cy="965.54" r="2.15"/>
<circle cx="651.75" cy="966.07" r="2.15"/>
<circle cx="652.88" cy="966.1" r="2.15"/>
<circle cx="652.99" cy="966.1" r="2.15"/>
<circle cx="653.1" cy="965.7" r="2.15"/>
<circle cx="654.36" cy="965.76" r="2.15"/>
<circle cx="654.12" cy="965.54" r="2.15"/>
<circle cx="654.16" cy="965.84" r="2.15"/>
<circle cx="655.33" cy="966.24" r="2.15"/>
<circle cx="655.39" cy="965.66" r="2.15"/>
<circle cx="655.44" cy="965.3" r="2.15"/>
<circle cx="656.86" cy="965.87" r="2.15"/>
<circle cx="656.95" cy="966.11" r="2.15"/>
<circle cx="656.98" cy="965.79" r="2.15"/>
<circle cx="657.84" cy="966.36" r="2.15"/>
<circle cx="658.23" cy="965.81" r="2.15"/>
<circle cx="657.86" cy="965.86" r="2.15"/>
<circle cx="659.33" cy="965.57" r="2.15"/>
<circle cx="659.2" cy="965.77" r="2.15"/>
<circle cx="659.13" cy="966.1" r="2.15"/>
<circle cx="660.69" cy="966.1" r="2.15"/>
<circle cx="660.53" cy="966.22" r="2.15"/>
<circle cx="660.63" cy="966.08" r="2.15"/>
<circle cx="661.68" cy="966" r="2.15"/>
<circle cx="661.56" cy="965.29" r="2.15"/>
<circle cx="661.82" cy="965.63" r="2.15"/>
<circle cx="663" cy="966.57" r="2.15"/>
<circle cx="662.91" cy="965.71" r="2.15"/>
<circle cx="663.08" cy="966.05" r="2.15"/>
<circle cx="664.24" cy="965.84" r="2.15"/>
<circle cx="664.43" cy="966.06" r="2.15"/>
<circle cx="664.45" cy="965.88" r="2.15"/>
<circle cx="665.6" cy="965.58" r="2.15"/>
<circle cx="665.29" cy="965.64" r="2.15"/>
<circle cx="665.63" cy="965.96" r="2.15"/>
<circle cx="666.78" cy="965.72" r="2.15"/>
<circle cx="666.72" cy="965.3" r="2.15"/>
<circle cx="666.58" cy="966.01" r="2.15"/>
<circle cx="667.89" cy="966.15" r="2.15"/>
<circle cx="667.88" cy="966.13" r="2.15"/>
<circle cx="667.99" cy="966.13" r="2.15"/>
<circle cx="669.08" cy="965.44" r="2.15"/>
<circle cx="669.17" cy="966.33" r="2.15"/>
<circle cx="669.21" cy="965.82" r="2.15"/>
<circle cx="670.64" cy="965.61" r="2.15"/>
<circle cx="670.48" cy="965.74" r="2.15"/>
<circle cx="670.63" cy="965.66" r="2.15"/>
<circle cx="671.89" cy="965.52" r="2.15"/>
<circle cx="671.65" cy="965.85" r="2.15"/>
<circle cx="671.91" cy="965.9" r="2.15"/>
<circle cx="673.08" cy="965.8" r="2.15"/>
<circle cx="673.03" cy="965.9" r="2.15"/>
<circle cx="672.84" cy="965.81" r="2.15"/>
<circle cx="674.02" cy="965.66" r="2.15"/>
<circle cx="674.02" cy="965.7" r="2.15"/>
<circle cx="674.34" cy="966" r="2.15"/>
<circle cx="675.4" cy="965.46" r="2.15"/>
<circle cx="675.49" cy="965.71" r="2.15"/>
<circle cx="675.64" cy="966.12" r="2.15"/>
<circle cx="676.71" cy="965.92" r="2.15"/>
<circle cx="676.49" cy="966.04" r="2.15"/>
<circle cx="676.61" cy="965.86" r="2.15"/>
<circle cx="678.05" cy="965.54" r="2.15"/>
<circle cx="677.7" cy="965.75" r="2.15"/>
<circle cx="678.04" cy="965.89" r="2.15"/>
<circle cx="679.15" cy="965.75" r="2.15"/>
<circle cx="678.91" cy="965.81" r="2.15"/>
<circle cx="678.89" cy="965.91" r="2.15"/>
<circle cx="680.25" cy="966.1" r="2.15"/>
<circle cx="680.41" cy="965.73" r="2.15"/>
<circle cx="680.42" cy="966.18" r="2.15"/>
<circle cx="681.71" cy="965.86" r="2.15"/>
<circle cx="681.52" cy="966.13" r="2.15"/>
<circle cx="681.64" cy="966.18" r="2.15"/>
<circle cx="682.94" cy="966.35" r="2.15"/>
<circle cx="682.71" cy="966.16" r="2.15"/>
<circle cx="682.63" cy="966.16" r="2.15"/>
<circle cx="684.33" cy="966.35" r="2.15"/>
<circle cx="683.88" cy="965.39" r="2.15"/>
<circle cx="684.01" cy="965.6" r="2.15"/>
<circle cx="685.41" cy="966.15" r="2.15"/>
<circle cx="685.25" cy="965.27" r="2.15"/>
<circle cx="685.49" cy="965.91" r="2.15"/>
<circle cx="686.72" cy="965.91" r="2.15"/>
<circle cx="686.43" cy="965.45" r="2.15"/>
<circle cx="686.66" cy="965.61" r="2.15"/>
<circle cx="687.63" cy="966.05" r="2.15"/>
<circle cx="687.89" cy="966.02" r="2.15"/>
<circle cx="687.98" cy="965.7" r="2.15"/>
<circle cx="689.18" cy="965.63" r="2.15"/>
<circle cx="689.27" cy="965.67" r="2.15"/>
<circle cx="688.83" cy="966" r="2.15"/>
<circle cx="690.17" cy="965.48" r="2.15"/>
<circle cx="690.53" cy="965.87" r="2.15"/>
<circle cx="690.19" cy="965.47" r="2.15"/>
<circle cx="691.63" cy="966.12" r="2.15"/>
<circle cx="691.49" cy="965.92" r="2.15"/>
<circle cx="691.64" cy="966.25" r="2.15"/>
<circle cx="692.73" cy="965.24" r="2.15"/>
<circle cx="692.82" cy="965.31" r="2.15"/>
<circle cx="692.67" cy="965.69" r="2.15"/>
<circle cx="694.02" cy="966.3" r="2.15"/>
<circle cx="694.16" cy="965.55" r="2.15"/>
<circle cx="693.94" cy="966.24" r="2.15"/>
<circle cx="701.33" cy="965.91" r="2.15"/>
<circle cx="701.02" cy="965.91" r="2.15"/>
<circle cx="700.99" cy="966.07" r="2.15"/>
<circle cx="702.33" cy="965.59" r="2.15"/>
<circle cx="702.61" cy="965.69" r="2.15"/>
<circle cx="702.29" cy="965.52" r="2.15"/>
<circle cx="703.88" cy="965.9" r="2.15"/>
<circle cx="703.79" cy="966.42" r="2.15"/>
<circle cx="703.8" cy="965.76" r="2.15"/>
<circle cx="705.09" cy="966.01" r="2.15"/>
<circle cx="704.86" cy="965.98" r="2.15"/>
<circle cx="704.94" cy="965.92" r="2.15"/>
<circle cx="706.01" cy="965.82" r="2.15"/>
<circle cx="706.19" cy="966.26" r="2.15"/>
<circle cx="706.37" cy="965.9" r="2.15"/>
<circle cx="707.25" cy="965.73" r="2.15"/>
<circle cx="707.48" cy="965.35" r="2.15"/>
<circle cx="707.66" cy="966.19" r="2.15"/>
<circle cx="708.82" cy="966.1" r="2.15"/>
<circle cx="708.6" cy="965.96" r="2.15"/>
<circle cx="708.49" cy="965.84" r="2.15"/>
<circle cx="710.02" cy="966.35" r="2.15"/>
<circle cx="709.87" cy="965.88" r="2.15"/>
<circle cx="709.85" cy="965.71" r="2.15"/>
<circle cx="711.31" cy="966.05" r="2.15"/>
<circle cx="711.08" cy="965.8" r="2.15"/>
<circle cx="711.25" cy="965.88" r="2.15"/>
<circle cx="712.54" cy="965.78" r="2.15"/>
<circle cx="712.32" cy="965.83" r="2.15"/>
<circle cx="712.51" cy="965.42" r="2.15"/>
<circle cx="713.44" cy="965.64" r="2.15"/>
<circle cx="713.78" cy="965.67" r="2.15"/>
<circle cx="713.43" cy="965.49" r="2.15"/>
<circle cx="715.11" cy="965.81" r="2.15"/>
<circle cx="714.9" cy="965.96" r="2.15"/>
<circle cx="714.99" cy="965.6" r="2.15"/>
<circle cx="716.31" cy="966.5" r="2.15"/>
<circle cx="716.24" cy="965.84" r="2.15"/>
<circle cx="716.09" cy="966" r="2.15"/>
<circle cx="717.25" cy="965.57" r="2.15"/>
<circle cx="717.46" cy="965.63" r="2.15"/>
<circle cx="717.12" cy="966.36" r="2.15"/>
<circle cx="718.78" cy="966.07" r="2.15"/>
<circle cx="718.46" cy="965.84" r="2.15"/>
<circle cx="718.45" cy="965.49" r="2.15"/>
<circle cx="726.8" cy="966.34" r="2.15"/>
<circle cx="726.64" cy="965.62" r="2.15"/>
<circle cx="726.79" cy="965.75" r="2.15"/>
<circle cx="728.13" cy="965.84" r="2.15"/>
<circle cx="728.06" cy="965.99" r="2.15"/>
<circle cx="728.05" cy="965.89" r="2.15"/>
<circle cx="729.3" cy="965.87" r="2.15"/>
<circle cx="729.43" cy="966.46" r="2.15"/>
<circle cx="729.12" cy="965.92" r="2.15"/>
<circle cx="730.33" cy="966.02" r="2.15"/>
<circle cx="730.75" cy="965.48" r="2.15"/>
<circle cx="730.76" cy="966.11" r="2.15"/>
<circle cx="731.77" cy="965.39" r="2.15"/>
<circle cx="731.98" cy="965.7" r="2.15"/>
<circle cx="731.68" cy="966.58" r="2.15"/>
<circle cx="732.79" cy="965.67" r="2.15"/>
<circle cx="732.99" cy="965.88" r="2.15"/>
<circle cx="733.14" cy="965.55" r="2.15"/>
<circle cx="734.38" cy="965.55" r="2.15"/>
<circle cx="734.43" cy="966.22" r="2.15"/>
<circle cx="734.37" cy="965.76" r="2.15"/>
<circle cx="735.33" cy="965.86" r="2.15"/>
<circle cx="735.33" cy="965.8" r="2.15"/>
<circle cx="735.54" cy="965.47" r="2.15"/>
<circle cx="736.95" cy="965.84" r="2.15"/>
<circle cx="736.74" cy="966.2" r="2.15"/>
<circle cx="736.97" cy="965.66" r="2.15"/>
<circle cx="756.15" cy="966.02" r="2.15"/>
<circle cx="756.15" cy="966.21" r="2.15"/>
<circle cx="756.07" cy="965.54" r="2.15"/>
<circle cx="757.21" cy="966.14" r="2.15"/>
<circle cx="757.34" cy="965.33" r="2.15"/>
<circle cx="757.16" cy="966.08" r="2.15"/>
<circle cx="758.34" cy="965.78" r="2.15"/>
<circle cx="758.62" cy="965.56" r="2.15"/>
<circle cx="758.6" cy="965.85" r="2.15"/>
<circle cx="759.96" cy="965.71" r="2.15"/>
<circle cx="759.68" cy="965.4" r="2.15"/>
<circle cx="759.74" cy="966.2" r="2.15"/>
<circle cx="760.76" cy="966.22" r="2.15"/>
<circle cx="761" cy="965.59" r="2.15"/>
<circle cx="760.74" cy="965.76" r="2.15"/>
<circle cx="762.28" cy="965.74" r="2.15"/>
<circle cx="762" cy="965.81" r="2.15"/>
<circle cx="762.07" cy="965.51" r="2.15"/>
<circle cx="763.64" cy="966.16" r="2.15"/>
<circle cx="763.43" cy="965.9" r="2.15"/>
<circle cx="763.56" cy="965.61" r="2.15"/>
<circle cx="764.85" cy="965.74" r="2.15"/>
<circle cx="764.75" cy="965.67" r="2.15"/>
<circle cx="764.78" cy="965.83" r="2.15"/>
<circle cx="765.89" cy="966.08" r="2.15"/>
<circle cx="765.88" cy="966.08" r="2.15"/>
<circle cx="765.88" cy="965.57" r="2.15"/>
<circle cx="767.31" cy="965.92" r="2.15"/>
<circle cx="767.1" cy="965.63" r="2.15"/>
<circle cx="767.12" cy="965.38" r="2.15"/>
<circle cx="768.56" cy="965.58" r="2.15"/>
<circle cx="768.53" cy="965.88" r="2.15"/>
<circle cx="768.6" cy="965.44" r="2.15"/>
<circle cx="769.69" cy="965.68" r="2.15"/>
<circle cx="769.75" cy="966.01" r="2.15"/>
<circle cx="769.62" cy="965.68" r="2.15"/>
<circle cx="770.8" cy="965.67" r="2.15"/>
<circle cx="770.87" cy="965.61" r="2.15"/>
<circle cx="770.88" cy="965.35" r="2.15"/>
<circle cx="772.19" cy="965.8" r="2.15"/>
<circle cx="772.34" cy="965.89" r="2.15"/>
<circle cx="772.03" cy="965.91" r="2.15"/>
<circle cx="773.38" cy="965.59" r="2.15"/>
<circle cx="773.17" cy="965.6" r="2.15"/>
<circle cx="773.24" cy="966.12" r="2.15"/>
<circle cx="774.79" cy="965.61" r="2.15"/>
<circle cx="774.62" cy="965.79" r="2.15"/>
<circle cx="774.61" cy="965.05" r="2.15"/>
<circle cx="775.89" cy="965.58" r="2.15"/>
<circle cx="775.78" cy="965.58" r="2.15"/>
<circle cx="776.01" cy="965.45" r="2.15"/>
<circle cx="777.23" cy="966.32" r="2.15"/>
<circle cx="777.09" cy="965.78" r="2.15"/>
<circle cx="777.21" cy="965.33" r="2.15"/>
<circle cx="778.43" cy="965.89" r="2.15"/>
<circle cx="778.42" cy="965.87" r="2.15"/>
<circle cx="778.34" cy="965.88" r="2.15"/>
<circle cx="779.66" cy="966.29" r="2.15"/>
<circle cx="779.83" cy="965.86" r="2.15"/>
<circle cx="779.5" cy="965.88" r="2.15"/>
<circle cx="780.62" cy="965.68" r="2.15"/>
<circle cx="780.98" cy="965.59" r="2.15"/>
<circle cx="780.69" cy="965.87" r="2.15"/>
<circle cx="781.99" cy="965.85" r="2.15"/>
<circle cx="782.08" cy="965.62" r="2.15"/>
<circle cx="782.16" cy="965.74" r="2.15"/>
<circle cx="783.46" cy="965.9" r="2.15"/>
<circle cx="783.25" cy="965.92" r="2.15"/>
<circle cx="783.29" cy="965.72" r="2.15"/>
<circle cx="784.39" cy="965.28" r="2.15"/>
<circle cx="784.64" cy="965.95" r="2.15"/>
<circle cx="784.39" cy="965.77" r="2.15"/>
<circle cx="785.7" cy="965.61" r="2.15"/>
<circle cx="785.57" cy="965.73" r="2.15"/>
<circle cx="785.64" cy="965.54" r="2.15"/>
<circle cx="786.81" cy="965.94" r="2.15"/>
<circle cx="786.93" cy="965.77" r="2.15"/>
<circle cx="786.89" cy="965.4" r="2.15"/>
<circle cx="788.25" cy="965.97" r="2.15"/>
<circle cx="788.45" cy="966.01" r="2.15"/>
<circle cx="788.5" cy="965.82" r="2.15"/>
<circle cx="789.62" cy="966.03" r="2.15"/>
<circle cx="789.62" cy="965.45" r="2.15"/>
<circle cx="789.67" cy="966.25" r="2.15"/>
<circle cx="791" cy="965.97" r="2.15"/>
<circle cx="790.58" cy="966.18" r="2.15"/>
<circle cx="790.54" cy="965.14" r="2.15"/>
<circle cx="801.45" cy="965.23" r="2.15"/>
<circle cx="801.27" cy="965.61" r="2.15"/>
<circle cx="803.71" cy="965.73" r="2.15"/>
<circle cx="803.87" cy="966.69" r="2.15"/>
<circle cx="805.9" cy="965.85" r="2.15"/>
<circle cx="805.71" cy="965.33" r="2.15"/>
<circle cx="810.62" cy="966.09" r="2.15"/>
<circle cx="810.71" cy="965.95" r="2.15"/>
<circle cx="814.6" cy="965.55" r="2.15"/>
<circle cx="814.48" cy="966.23" r="2.15"/>
<circle cx="816.88" cy="966.38" r="2.15"/>
<circle cx="817.26" cy="965.76" r="2.15"/>
<circle cx="819.84" cy="965.45" r="2.15"/>
<circle cx="819.81" cy="966.16" r="2.15"/>
<circle cx="822.1" cy="966.04" r="2.15"/>
<circle cx="822.25" cy="965.74" r="2.15"/>
<circle cx="827.18" cy="965.51" r="2.15"/>
<circle cx="826.83" cy="965.75" r="2.15"/>
<circle cx="830.06" cy="966.07" r="2.15"/>
<circle cx="829.92" cy="965.89" r="2.15"/>
<circle cx="835.19" cy="964.66" r="2.15"/>
<circle cx="835.01" cy="966.14" r="2.15"/>
<circle cx="837.63" cy="966.67" r="2.15"/>
<circle cx="837.35" cy="966.04" r="2.15"/>
<circle cx="842.16" cy="966.25" r="2.15"/>
<circle cx="841.89" cy="965.88" r="2.15"/>
<circle cx="845.97" cy="966.78" r="2.15"/>
<circle cx="845.88" cy="965.88" r="2.15"/>
<circle cx="849.48" cy="966.5" r="2.15"/>
<circle cx="849.33" cy="966.56" r="2.15"/>
<circle cx="854.92" cy="965.82" r="2.15"/>
<circle cx="854.52" cy="966.25" r="2.15"/>
<circle cx="857.53" cy="965.22" r="2.15"/>
<circle cx="857.54" cy="966.05" r="2.15"/>
<circle cx="860.48" cy="965.21" r="2.15"/>
<circle cx="860.47" cy="966.12" r="2.15"/>
<circle cx="872.85" cy="966.21" r="2.15"/>
<circle cx="875.44" cy="965.64" r="2.15"/>
<circle cx="878.04" cy="966.1" r="2.15"/>
<circle cx="880.5" cy="965.79" r="2.15"/>
<circle cx="882.93" cy="966.17" r="2.15"/>
<circle cx="885.76" cy="966.57" r="2.15"/>
<circle cx="888.4" cy="965.97" r="2.15"/>
<circle cx="888.62" cy="965.86" r="2.15"/>
<circle cx="891.89" cy="965.65" r="2.15"/>
<circle cx="894.18" cy="966.1" r="2.15"/>
<circle cx="896.29" cy="966.09" r="2.15"/>
<circle cx="898.97" cy="965.63" r="2.15"/>
<circle cx="901.34" cy="965.89" r="2.15"/>
<circle cx="904.08" cy="965.83" r="2.15"/>
<circle cx="906.49" cy="965.79" r="2.15"/>
<circle cx="908.89" cy="965.87" r="2.15"/>
<circle cx="908.73" cy="966.52" r="2.15"/>
<circle cx="910.82" cy="966.05" r="2.15"/>
<circle cx="913.54" cy="966.48" r="2.15"/>
<circle cx="913.69" cy="966.07" r="2.15"/>
<circle cx="915.9" cy="966.09" r="2.15"/>
<circle cx="918.03" cy="966.1" r="2.15"/>
<circle cx="918.12" cy="965.39" r="2.15"/>
<circle cx="920.7" cy="965.72" r="2.15"/>
<circle cx="924.05" cy="966.27" r="2.15"/>
<circle cx="927.19" cy="965.91" r="2.15"/>
<circle cx="929.28" cy="965.54" r="2.15"/>
<circle cx="932.32" cy="966" r="2.15"/>
<circle cx="935.2" cy="965.87" r="2.15"/>
<circle cx="937.57" cy="965.72" r="2.15"/>
<circle cx="939.68" cy="966.45" r="2.15"/>
<circle cx="941.97" cy="965.7" r="2.15"/>
<circle cx="944.85" cy="965.88" r="2.15"/>
<circle cx="946.84" cy="965.87" r="2.15"/>
<circle cx="947.15" cy="965.79" r="2.15"/>
<circle cx="949.35" cy="965.83" r="2.15"/>
<circle cx="949.46" cy="966.11" r="2.15"/>
<circle cx="952.63" cy="965.98" r="2.15"/>
<circle cx="953.6" cy="965.9" r="2.15"/>
<circle cx="681.5" cy="964.6" r="2.15"/>
<circle cx="657.1" cy="967.3" r="2.15"/>
<circle cx="694.5" cy="967" r="2.15"/>
<circle cx="770" cy="970.6" r="2.15"/>
<circle cx="814.7" cy="531.9" r="2.15"/>
<circle cx="914" cy="969.6" r="2.15"/>
<circle cx="941.5" cy="969.8" r="2.15"/>
<circle cx="943.2" cy="969.4" r="2.15"/>
<circle cx="928.4" cy="964.3" r="2.15"/>
<circle cx="945" cy="964.5" r="2.15"/>
<circle cx="876" cy="969" r="2.15"/>
</g>
<path d="M131.2 477.99L132.41 477.48L133.74 476.92L135.08 476.34L136.42 475.76L137.76 475.16L139.1 474.56L140.44 473.95L141.78 473.33L143.12 472.69L144.46 472.05L145.8 471.4L147.14 470.73L148.48 470.06L149.82 469.37L151.16 468.67L152.5 467.96L153.84 467.24L155.17 466.51L156.51 465.76L157.85 465L159.19 464.23L160.53 463.44L161.87 462.64L163.21 461.83L164.55 461L165.89 460.15L167.23 459.29L168.57 458.42L169.91 457.53L171.25 456.62L172.59 455.69L173.93 454.75L175.26 453.79L176.6 452.81L177.94 451.82L179.28 450.8L180.62 449.76L181.96 448.71L183.3 447.63L184.64 446.53L185.98 445.41L187.32 444.27L188.66 443.1L190 441.91L191.34 440.69L192.68 439.45L194.02 438.19L195.36 436.89L196.69 435.57L198.03 434.22L199.37 432.85L200.71 431.44L202.05 430L203.39 428.53L204.73 427.02L206.07 425.49L207.41 423.91L208.75 422.3L210.09 420.66L211.43 418.97L212.77 417.25L214.11 415.49L215.45 413.68L216.78 411.83L218.12 409.94L219.46 408L220.8 406.01L222.14 403.98L223.48 401.89L224.82 399.75L226.16 397.56L227.5 395.31L228.84 393L230.18 390.64L231.52 388.21L232.86 385.72L234.2 383.16L235.54 380.54L236.87 377.85L238.21 375.08L239.55 372.24L240.89 369.33L242.23 366.33L243.57 363.25L244.91 360.09L246.25 356.85L247.59 353.51L248.93 350.08L250.27 346.56L251.61 342.94L252.95 339.22L254.29 335.4L255.63 331.47L256.97 327.44L258.3 323.3L259.64 319.04L260.98 314.68L262.32 310.2L263.66 305.61L265 300.9L266.34 296.07L267.68 291.13L269.02 286.08L270.36 280.91L271.7 275.64L273.04 270.25L274.38 264.77L275.72 259.19L277.06 253.53L278.39 247.79L279.73 241.99L281.07 236.13L282.41 230.24L283.75 224.33L285.09 218.42L286.43 212.55L287.77 206.72L289.11 200.98L290.45 195.35L291.79 189.87L293.13 184.57L294.47 179.5L295.81 174.68L297.15 170.17L298.49 166L299.82 162.22L301.16 158.85L302.5 155.94L303.84 153.52L305.18 151.61L306.52 150.25L307.86 149.43L309.2 149.19L310.54 149.51L311.88 150.39L313.22 151.83L314.56 153.8L315.9 156.28L317.24 159.25L318.58 162.67L319.91 166.51L321.25 170.73L322.59 175.28L323.93 180.13L325.27 185.23L326.61 190.56L327.95 196.06L329.29 201.7L330.63 207.46L331.97 213.29L333.31 219.17L334.65 225.08L335.99 230.99L337.33 236.88L338.67 242.73L340.01 248.53L341.34 254.26L342.68 259.91L344.02 265.47L345.36 270.94L346.7 276.31L348.04 281.58L349.38 286.73L350.72 291.77L352.06 296.69L353.4 301.51L354.74 306.2L356.08 310.78L357.42 315.24L358.76 319.59L360.1 323.83L361.43 327.96L362.77 331.98L364.11 335.89L365.45 339.7L366.79 343.4L368.13 347.01L369.47 350.52L370.81 353.94L372.15 357.26L373.49 360.5L374.83 363.65L376.17 366.72L377.51 369.7L378.85 372.61L380.19 375.44L381.53 378.19L382.86 380.88L384.2 383.49L385.54 386.04L386.88 388.52L388.22 390.94L389.56 393.3L390.9 395.6L392.24 397.84L393.58 400.03L394.92 402.16L396.26 404.24L397.6 406.27L398.94 408.25L400.28 410.18L401.62 412.07L402.95 413.91L404.29 415.71L405.63 417.47L406.97 419.19L408.31 420.87L409.65 422.51L410.99 424.11L412.33 425.68L413.67 427.22L415.01 428.72L416.35 430.18L417.69 431.62L419.03 433.02L420.37 434.4L421.71 435.74L423.04 437.06L424.38 438.35L425.72 439.61L427.06 440.85L428.4 442.06L429.74 443.25L431.08 444.41L432.42 445.55L433.76 446.67L435.1 447.77L436.44 448.84L437.78 449.9L439.12 450.93L440.46 451.94L441.8 452.94L443.14 453.91L444.47 454.87L445.81 455.81L447.15 456.73L448.49 457.64L449.83 458.53L451.17 459.4L452.51 460.26L453.85 461.1L455.19 461.93L456.53 462.74L457.87 463.54L459.21 464.33L460.55 465.1L461.89 465.86L463.23 466.6L464.56 467.33L465.9 468.05L467.24 468.76L468.58 469.46L469.92 470.14L471.26 470.82L472.6 471.48L473.94 472.13L475.28 472.77L476.62 473.41L477.96 474.03L479.3 474.64L480.64 475.24L481.98 475.83L483.32 476.42" fill="none" stroke="#000" stroke-width="3.2" stroke-dasharray="4.9 2.3" stroke-linejoin="round"/>
<path d="M626.6 414.27L627.86 413.73L629.26 413.12L630.67 412.51L632.07 411.88L633.47 411.25L634.87 410.6L636.27 409.94L637.67 409.28L639.08 408.6L640.48 407.91L641.88 407.21L643.28 406.5L644.68 405.78L646.09 405.04L647.49 404.3L648.89 403.54L650.29 402.76L651.69 401.98L653.09 401.18L654.5 400.36L655.9 399.54L657.3 398.69L658.7 397.84L660.1 396.96L661.5 396.08L662.91 395.17L664.31 394.25L665.71 393.32L667.11 392.36L668.51 391.39L669.92 390.4L671.32 389.39L672.72 388.36L674.12 387.31L675.52 386.25L676.92 385.16L678.33 384.05L679.73 382.92L681.13 381.76L682.53 380.59L683.93 379.39L685.34 378.16L686.74 376.91L688.14 375.64L689.54 374.34L690.94 373.01L692.34 371.65L693.75 370.27L695.15 368.86L696.55 367.41L697.95 365.94L699.35 364.43L700.76 362.89L702.16 361.31L703.56 359.7L704.96 358.06L706.36 356.37L707.76 354.65L709.17 352.89L710.57 351.08L711.97 349.24L713.37 347.35L714.77 345.42L716.18 343.44L717.58 341.41L718.98 339.33L720.38 337.21L721.78 335.03L723.18 332.79L724.59 330.5L725.99 328.15L727.39 325.75L728.79 323.28L730.19 320.74L731.6 318.15L733 315.48L734.4 312.74L735.8 309.93L737.2 307.05L738.6 304.09L740.01 301.05L741.41 297.93L742.81 294.72L744.21 291.42L745.61 288.04L747.02 284.56L748.42 280.99L749.82 277.32L751.22 273.55L752.62 269.67L754.02 265.69L755.43 261.6L756.83 257.39L758.23 253.08L759.63 248.64L761.03 244.09L762.43 239.42L763.84 234.62L765.24 229.7L766.64 224.66L768.04 219.5L769.44 214.21L770.85 208.79L772.25 203.26L773.65 197.61L775.05 191.85L776.45 185.98L777.85 180.01L779.26 173.94L780.66 167.8L782.06 161.58L783.46 155.31L784.86 149L786.27 142.68L787.67 136.36L789.07 130.06L790.47 123.83L791.87 117.68L793.27 111.65L794.68 105.78L796.08 100.11L797.48 94.68L798.88 89.52L800.28 84.69L801.69 80.23L803.09 76.17L804.49 72.57L805.89 69.45L807.29 66.86L808.69 64.82L810.1 63.36L811.5 62.49L812.9 62.22L814.3 62.56L815.7 63.51L817.11 65.05L818.51 67.16L819.91 69.82L821.31 73L822.71 76.66L824.11 80.77L825.52 85.29L826.92 90.16L828.32 95.35L829.72 100.82L831.12 106.52L832.53 112.41L833.93 118.45L835.33 124.61L836.73 130.86L838.13 137.16L839.53 143.48L840.94 149.81L842.34 156.11L843.74 162.38L845.14 168.58L846.54 174.72L847.95 180.77L849.35 186.73L850.75 192.59L852.15 198.34L853.55 203.97L854.95 209.49L856.36 214.89L857.76 220.16L859.16 225.31L860.56 230.34L861.96 235.24L863.37 240.02L864.77 244.68L866.17 249.21L867.57 253.63L868.97 257.93L870.37 262.12L871.78 266.2L873.18 270.17L874.58 274.03L875.98 277.79L877.38 281.45L878.78 285.01L880.19 288.48L881.59 291.85L882.99 295.13L884.39 298.33L885.79 301.44L887.2 304.47L888.6 307.42L890 310.3L891.4 313.09L892.8 315.82L894.2 318.48L895.61 321.07L897.01 323.59L898.41 326.06L899.81 328.46L901.21 330.8L902.62 333.08L904.02 335.31L905.42 337.48L906.82 339.6L908.22 341.67L909.62 343.69L911.03 345.67L912.43 347.59L913.83 349.48L915.23 351.32L916.63 353.11L918.04 354.87L919.44 356.59L920.84 358.27L922.24 359.91L923.64 361.51L925.04 363.08L926.45 364.62L927.85 366.13L929.25 367.6L930.65 369.04L932.05 370.45L933.46 371.83L934.86 373.18L936.26 374.51L937.66 375.8L939.06 377.08L940.46 378.32L941.87 379.54L943.27 380.74L944.67 381.91L946.07 383.06L947.47 384.19L948.88 385.3L950.28 386.38L951.68 387.45L953.08 388.49L954.48 389.52L955.88 390.53L957.29 391.51L958.69 392.48L960.09 393.44L961.49 394.37L962.89 395.29L964.3 396.19L965.7 397.08L967.1 397.95L968.5 398.8L969.9 399.64L971.3 400.47L972.71 401.28L974.11 402.08L975.51 402.86L976.91 403.63L978.31 404.39L979.71 405.14L981.12 405.87L982.52 406.59L983.92 407.3L985.32 408L986.72 408.69L988.13 409.36L989.53 410.03L990.93 410.68L992.33 411.33L993.73 411.96L995.13 412.59" fill="none" stroke="#000" stroke-width="3.2" stroke-dasharray="4.9 2.3" stroke-linejoin="round"/>
<path d="M237.83 970.18L237.88 969.66L237.94 969.08L238 968.49L238.06 967.9L238.12 967.29L238.18 966.67L238.24 966.04L238.3 965.41L238.36 964.76L238.42 964.1L238.47 963.43L238.53 962.75L238.59 962.06L238.65 961.36L238.71 960.65L238.77 959.92L238.83 959.18L238.89 958.43L238.95 957.67L239.01 956.89L239.07 956.1L239.13 955.29L239.19 954.47L239.25 953.64L239.31 952.79L239.36 951.93L239.42 951.05L239.48 950.15L239.54 949.24L239.6 948.31L239.66 947.36L239.72 946.4L239.78 945.42L239.84 944.42L239.9 943.4L239.96 942.36L240.02 941.3L240.08 940.21L240.14 939.11L240.2 937.99L240.25 936.84L240.31 935.67L240.37 934.48L240.43 933.26L240.49 932.01L240.55 930.75L240.61 929.45L240.67 928.13L240.73 926.77L240.79 925.39L240.85 923.98L240.91 922.54L240.97 921.07L241.03 919.56L241.09 918.02L241.14 916.45L241.2 914.84L241.26 913.2L241.32 911.51L241.38 909.79L241.44 908.03L241.5 906.22L241.56 904.37L241.62 902.48L241.68 900.54L241.74 898.56L241.8 896.52L241.86 894.44L241.92 892.31L241.98 890.12L242.03 887.87L242.09 885.57L242.15 883.21L242.21 880.79L242.27 878.31L242.33 875.76L242.39 873.14L242.45 870.46L242.51 867.7L242.57 864.87L242.63 861.97L242.69 858.98L242.75 855.92L242.81 852.77L242.87 849.53L242.92 846.21L242.98 842.8L243.04 839.29L243.1 835.68L243.16 831.98L243.22 828.17L243.28 824.26L243.34 820.24L243.4 816.12L243.46 811.88L243.52 807.53L243.58 803.06L243.64 798.48L243.7 793.78L243.76 788.96L243.81 784.02L243.87 778.97L243.93 773.79L243.99 768.51L244.05 763.11L244.11 757.6L244.17 751.99L244.23 746.28L244.29 740.49L244.35 734.61L244.41 728.67L244.47 722.68L244.53 716.65L244.59 710.6L244.65 704.56L244.7 698.55L244.76 692.58L244.82 686.71L244.88 680.95L244.94 675.34L245 669.92L245.06 664.72L245.12 659.8L245.18 655.18L245.24 650.92L245.3 647.04L245.36 643.6L245.42 640.62L245.48 638.14L245.54 636.19L245.59 634.79L245.65 633.96L245.71 633.71L245.77 634.03L245.83 634.94L245.89 636.41L245.95 638.43L246.01 640.97L246.07 644.01L246.13 647.51L246.19 651.44L246.25 655.75L246.31 660.41L246.37 665.37L246.43 670.6L246.48 676.04L246.54 681.67L246.6 687.45L246.66 693.34L246.72 699.31L246.78 705.33L246.84 711.37L246.9 717.42L246.96 723.44L247.02 729.43L247.08 735.36L247.14 741.23L247.2 747.01L247.26 752.71L247.32 758.31L247.37 763.8L247.43 769.19L247.49 774.46L247.55 779.62L247.61 784.66L247.67 789.58L247.73 794.38L247.79 799.07L247.85 803.64L247.91 808.09L247.97 812.42L248.03 816.65L248.09 820.76L248.15 824.76L248.21 828.66L248.26 832.45L248.32 836.15L248.38 839.74L248.44 843.23L248.5 846.64L248.56 849.95L248.62 853.17L248.68 856.31L248.74 859.37L248.8 862.34L248.86 865.24L248.92 868.06L248.98 870.8L249.04 873.48L249.1 876.09L249.15 878.63L249.21 881.1L249.27 883.52L249.33 885.87L249.39 888.16L249.45 890.4L249.51 892.58L249.57 894.71L249.63 896.79L249.69 898.81L249.75 900.79L249.81 902.72L249.87 904.61L249.93 906.45L249.99 908.25L250.04 910.01L250.1 911.73L250.16 913.41L250.22 915.05L250.28 916.65L250.34 918.22L250.4 919.76L250.46 921.26L250.52 922.73L250.58 924.16L250.64 925.57L250.7 926.95L250.76 928.3L250.82 929.62L250.88 930.91L250.93 932.17L250.99 933.41L251.05 934.63L251.11 935.82L251.17 936.99L251.23 938.13L251.29 939.25L251.35 940.35L251.41 941.43L251.47 942.49L251.53 943.53L251.59 944.54L251.65 945.54L251.71 946.52L251.77 947.48L251.82 948.43L251.88 949.36L251.94 950.27L252 951.16L252.06 952.04L252.12 952.9L252.18 953.75L252.24 954.58L252.3 955.39L252.36 956.2L252.42 956.99L252.48 957.76L252.54 958.53L252.6 959.28L252.66 960.01L252.71 960.74L252.77 961.45L252.83 962.15L252.89 962.84L252.95 963.52L253.01 964.19L253.07 964.84L253.13 965.49L253.19 966.12L253.25 966.75L253.31 967.37L253.37 967.97L253.43 968.57" fill="none" stroke="#000" stroke-width="3.2" stroke-dasharray="4.9 2.3" stroke-linejoin="round"/>
<path d="M738.2 964.81L738.26 964.79L738.32 964.78L738.38 964.77L738.44 964.75L738.5 964.74L738.57 964.72L738.63 964.71L738.69 964.69L738.75 964.67L738.81 964.66L738.88 964.64L738.94 964.62L739 964.61L739.06 964.59L739.13 964.57L739.19 964.55L739.25 964.54L739.31 964.52L739.37 964.5L739.44 964.48L739.5 964.46L739.56 964.44L739.62 964.42L739.68 964.4L739.75 964.38L739.81 964.36L739.87 964.33L739.93 964.31L739.99 964.29L740.06 964.27L740.12 964.24L740.18 964.22L740.24 964.19L740.31 964.17L740.37 964.14L740.43 964.12L740.49 964.09L740.55 964.07L740.62 964.04L740.68 964.01L740.74 963.98L740.8 963.95L740.86 963.92L740.93 963.89L740.99 963.86L741.05 963.83L741.11 963.8L741.17 963.77L741.24 963.73L741.3 963.7L741.36 963.66L741.42 963.63L741.49 963.59L741.55 963.55L741.61 963.52L741.67 963.48L741.73 963.44L741.8 963.4L741.86 963.36L741.92 963.31L741.98 963.27L742.04 963.22L742.11 963.18L742.17 963.13L742.23 963.08L742.29 963.03L742.35 962.98L742.42 962.93L742.48 962.88L742.54 962.83L742.6 962.77L742.66 962.71L742.73 962.65L742.79 962.59L742.85 962.53L742.91 962.47L742.98 962.41L743.04 962.34L743.1 962.27L743.16 962.2L743.22 962.13L743.29 962.06L743.35 961.98L743.41 961.9L743.47 961.82L743.53 961.74L743.6 961.65L743.66 961.57L743.72 961.48L743.78 961.39L743.84 961.29L743.91 961.2L743.97 961.1L744.03 960.99L744.09 960.89L744.16 960.78L744.22 960.67L744.28 960.56L744.34 960.44L744.4 960.32L744.47 960.2L744.53 960.07L744.59 959.95L744.65 959.82L744.71 959.68L744.78 959.55L744.84 959.41L744.9 959.27L744.96 959.12L745.02 958.98L745.09 958.83L745.15 958.68L745.21 958.53L745.27 958.38L745.34 958.23L745.4 958.08L745.46 957.94L745.52 957.79L745.58 957.65L745.65 957.51L745.71 957.38L745.77 957.25L745.83 957.13L745.89 957.01L745.96 956.91L746.02 956.81L746.08 956.72L746.14 956.65L746.2 956.59L746.27 956.54L746.33 956.51L746.39 956.49L746.45 956.48L746.52 956.49L746.58 956.51L746.64 956.55L746.7 956.6L746.76 956.66L746.83 956.73L746.89 956.82L746.95 956.92L747.01 957.03L747.07 957.14L747.14 957.26L747.2 957.39L747.26 957.53L747.32 957.67L747.38 957.81L747.45 957.96L747.51 958.1L747.57 958.25L747.63 958.4L747.7 958.55L747.76 958.7L747.82 958.85L747.88 959L747.94 959.14L748.01 959.28L748.07 959.42L748.13 959.56L748.19 959.7L748.25 959.83L748.32 959.96L748.38 960.09L748.44 960.22L748.5 960.34L748.56 960.46L748.63 960.57L748.69 960.69L748.75 960.8L748.81 960.9L748.87 961.01L748.94 961.11L749 961.21L749.06 961.3L749.12 961.4L749.19 961.49L749.25 961.58L749.31 961.67L749.37 961.75L749.43 961.83L749.5 961.91L749.56 961.99L749.62 962.06L749.68 962.14L749.74 962.21L749.81 962.28L749.87 962.35L749.93 962.41L749.99 962.48L750.05 962.54L750.12 962.6L750.18 962.66L750.24 962.72L750.3 962.78L750.37 962.83L750.43 962.89L750.49 962.94L750.55 962.99L750.61 963.04L750.68 963.09L750.74 963.14L750.8 963.18L750.86 963.23L750.92 963.27L750.99 963.32L751.05 963.36L751.11 963.4L751.17 963.44L751.23 963.48L751.3 963.52L751.36 963.56L751.42 963.6L751.48 963.63L751.55 963.67L751.61 963.7L751.67 963.74L751.73 963.77L751.79 963.8L751.86 963.84L751.92 963.87L751.98 963.9L752.04 963.93L752.1 963.96L752.17 963.99L752.23 964.01L752.29 964.04L752.35 964.07L752.41 964.1L752.48 964.12L752.54 964.15L752.6 964.17L752.66 964.2L752.73 964.22L752.79 964.25L752.85 964.27L752.91 964.29L752.97 964.31L753.04 964.34L753.1 964.36L753.16 964.38L753.22 964.4L753.28 964.42L753.35 964.44L753.41 964.46L753.47 964.48L753.53 964.5L753.59 964.52L753.66 964.54L753.72 964.56L753.78 964.57L753.84 964.59L753.91 964.61L753.97 964.63L754.03 964.64L754.09 964.66L754.15 964.68L754.22 964.69L754.28 964.71L754.34 964.72L754.4 964.74L754.46 964.75L754.53 964.77" fill="none" stroke="#000" stroke-width="3.2" stroke-dasharray="4.9 2.3" stroke-linejoin="round"/>
<path d="M131.2 49.7H487.2V478.4H131.2ZM135.08 478.4L135.08 467.4M135.08 49.7L135.08 60.7M188.66 478.4L188.66 467.4M188.66 49.7L188.66 60.7M242.23 478.4L242.23 467.4M242.23 49.7L242.23 60.7M295.81 478.4L295.81 467.4M295.81 49.7L295.81 60.7M349.38 478.4L349.38 467.4M349.38 49.7L349.38 60.7M402.95 478.4L402.95 467.4M402.95 49.7L402.95 60.7M456.53 478.4L456.53 467.4M456.53 49.7L456.53 60.7M131.2 476.42L142.2 476.42M487.2 476.42L476.2 476.42M131.2 431.45L142.2 431.45M487.2 431.45L476.2 431.45M131.2 386.47L142.2 386.47M487.2 386.47L476.2 386.47M131.2 341.5L142.2 341.5M487.2 341.5L476.2 341.5M131.2 296.52L142.2 296.52M487.2 296.52L476.2 296.52M131.2 251.55L142.2 251.55M487.2 251.55L476.2 251.55M131.2 206.57L142.2 206.57M487.2 206.57L476.2 206.57M131.2 161.6L142.2 161.6M487.2 161.6L476.2 161.6M131.2 116.62L142.2 116.62M487.2 116.62L476.2 116.62M131.2 71.65L142.2 71.65M487.2 71.65L476.2 71.65M626.6 49.7H999.2V478.4H626.6ZM630.67 478.4L630.67 467.4M630.67 49.7L630.67 60.7M686.74 478.4L686.74 467.4M686.74 49.7L686.74 60.7M742.81 478.4L742.81 467.4M742.81 49.7L742.81 60.7M798.88 478.4L798.88 467.4M798.88 49.7L798.88 60.7M854.95 478.4L854.95 467.4M854.95 49.7L854.95 60.7M911.03 478.4L911.03 467.4M911.03 49.7L911.03 60.7M967.1 478.4L967.1 467.4M967.1 49.7L967.1 60.7M626.6 460.75L637.6 460.75M999.2 460.75L988.2 460.75M626.6 412.59L637.6 412.59M999.2 412.59L988.2 412.59M626.6 364.44L637.6 364.44M999.2 364.44L988.2 364.44M626.6 316.28L637.6 316.28M999.2 316.28L988.2 316.28M626.6 268.13L637.6 268.13M999.2 268.13L988.2 268.13M626.6 219.97L637.6 219.97M999.2 219.97L988.2 219.97M626.6 171.82L637.6 171.82M999.2 171.82L988.2 171.82M626.6 123.67L637.6 123.67M999.2 123.67L988.2 123.67M626.6 75.51L637.6 75.51M999.2 75.51L988.2 75.51M131.2 531.9H487.2V970.6H131.2ZM131.2 970.6L131.2 959.6M131.2 531.9L131.2 542.9M190.53 970.6L190.53 959.6M190.53 531.9L190.53 542.9M249.87 970.6L249.87 959.6M249.87 531.9L249.87 542.9M309.2 970.6L309.2 959.6M309.2 531.9L309.2 542.9M368.53 970.6L368.53 959.6M368.53 531.9L368.53 542.9M427.87 970.6L427.87 959.6M427.87 531.9L427.87 542.9M487.2 970.6L487.2 959.6M487.2 531.9L487.2 542.9M131.2 968.57L142.2 968.57M487.2 968.57L476.2 968.57M131.2 922.55L142.2 922.55M487.2 922.55L476.2 922.55M131.2 876.53L142.2 876.53M487.2 876.53L476.2 876.53M131.2 830.5L142.2 830.5M487.2 830.5L476.2 830.5M131.2 784.48L142.2 784.48M487.2 784.48L476.2 784.48M131.2 738.46L142.2 738.46M487.2 738.46L476.2 738.46M131.2 692.43L142.2 692.43M487.2 692.43L476.2 692.43M131.2 646.41L142.2 646.41M487.2 646.41L476.2 646.41M131.2 600.38L142.2 600.38M487.2 600.38L476.2 600.38M131.2 554.36L142.2 554.36M487.2 554.36L476.2 554.36M626.6 531.9H999.2V970.6H626.6ZM626.6 970.6L626.6 959.6M626.6 531.9L626.6 542.9M688.7 970.6L688.7 959.6M688.7 531.9L688.7 542.9M750.8 970.6L750.8 959.6M750.8 531.9L750.8 542.9M812.9 970.6L812.9 959.6M812.9 531.9L812.9 542.9M875 970.6L875 959.6M875 531.9L875 542.9M937.1 970.6L937.1 959.6M937.1 531.9L937.1 542.9M999.2 970.6L999.2 959.6M999.2 531.9L999.2 542.9M626.6 965.91L637.6 965.91M999.2 965.91L988.2 965.91M626.6 920.34L637.6 920.34M999.2 920.34L988.2 920.34M626.6 874.78L637.6 874.78M999.2 874.78L988.2 874.78M626.6 829.21L637.6 829.21M999.2 829.21L988.2 829.21M626.6 783.65L637.6 783.65M999.2 783.65L988.2 783.65M626.6 738.08L637.6 738.08M999.2 738.08L988.2 738.08M626.6 692.52L637.6 692.52M999.2 692.52L988.2 692.52M626.6 646.95L637.6 646.95M999.2 646.95L988.2 646.95M626.6 601.39L637.6 601.39M999.2 601.39L988.2 601.39M626.6 555.82L637.6 555.82M999.2 555.82L988.2 555.82" fill="none" stroke="#000" stroke-opacity="0.62" stroke-width="1.2"/>
</svg>
</body></html>
